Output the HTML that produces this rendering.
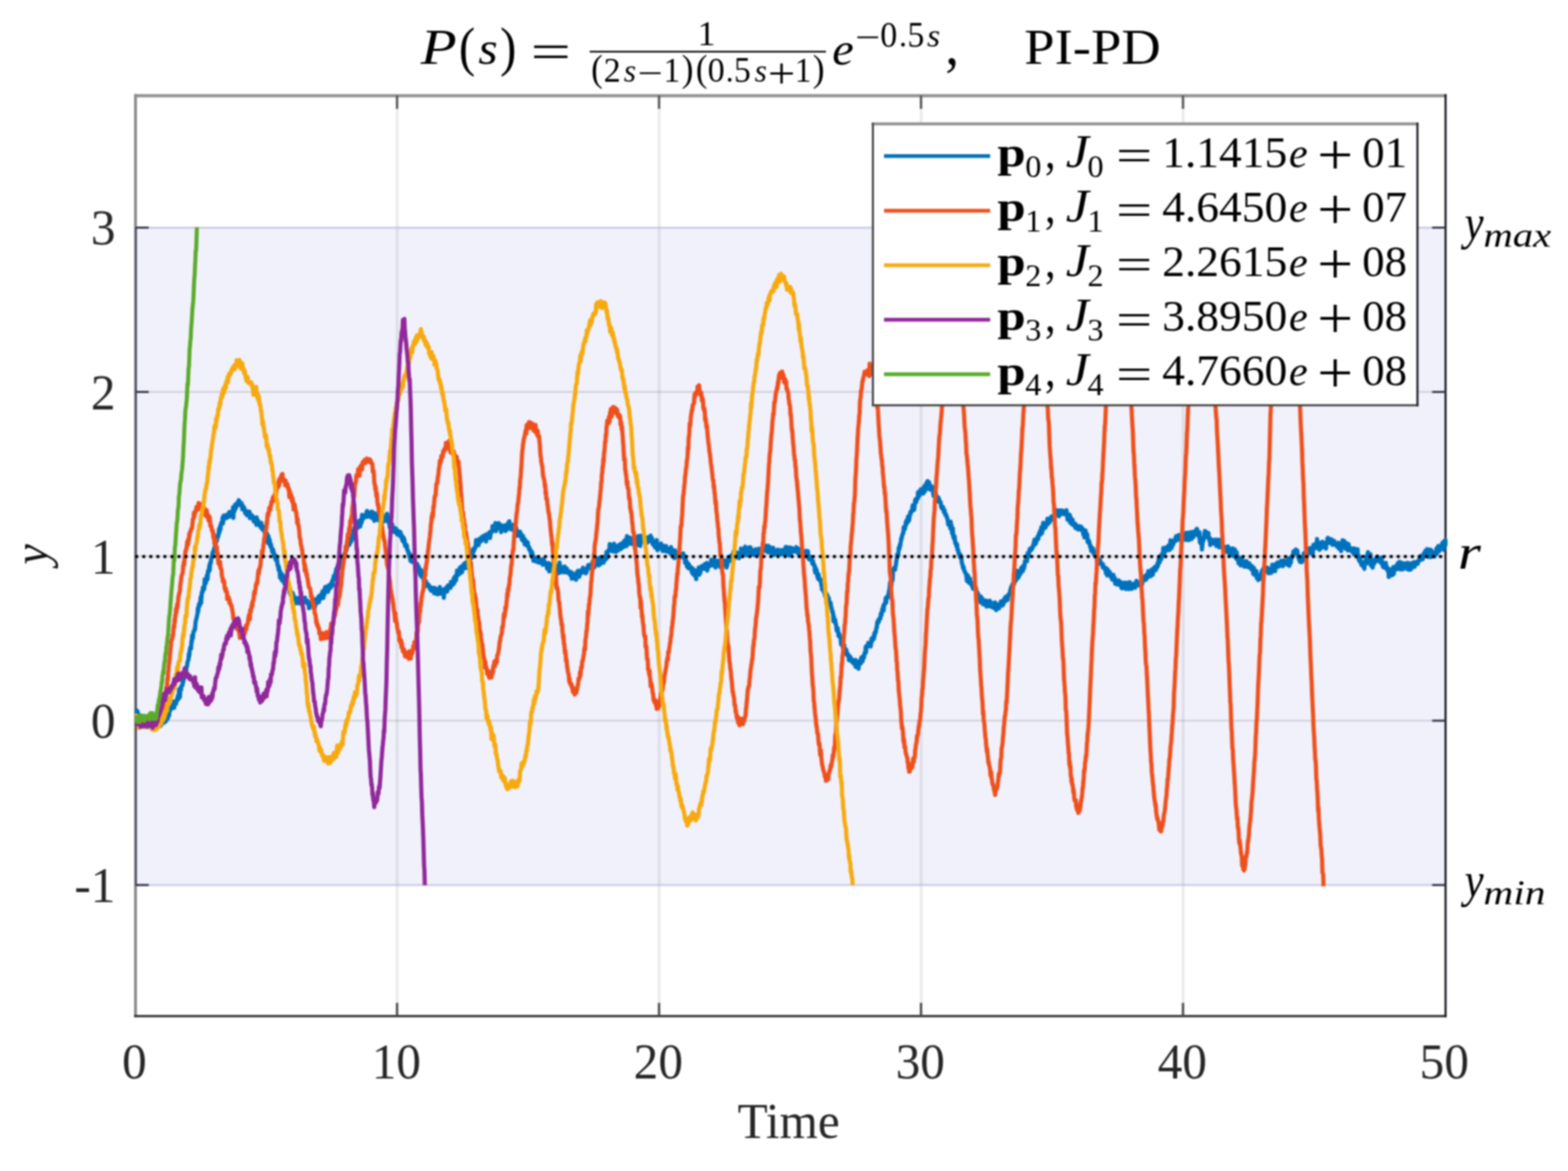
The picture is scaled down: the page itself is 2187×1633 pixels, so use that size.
<!DOCTYPE html>
<html lang="en"><head><meta charset="utf-8"><title>PI-PD step responses</title>
<style>html,body{margin:0;padding:0;background:#fff;}body{width:2187px;height:1633px;overflow:hidden;}svg{display:block;filter:blur(0.9px);}</style>
</head><body>
<svg xmlns="http://www.w3.org/2000/svg" width="2187" height="1633" viewBox="0 0 2187 1633">
<rect x="0" y="0" width="2187" height="1633" fill="#fff"/>
<rect x="189.0" y="317.4" width="1827.0" height="916.8" fill="#f1f1fc"/>
<g stroke="#262626" stroke-opacity="0.085" stroke-width="4.2" fill="none"><line x1="554.0" y1="133.3" x2="554.0" y2="1417.0"/><line x1="919.4" y1="133.3" x2="919.4" y2="1417.0"/><line x1="1284.8" y1="133.3" x2="1284.8" y2="1417.0"/><line x1="1650.2" y1="133.3" x2="1650.2" y2="1417.0"/></g>
<g stroke="#262626" stroke-opacity="0.14" stroke-width="2.6" fill="none"><line x1="189.0" y1="1005.0" x2="2016.0" y2="1005.0"/><line x1="189.0" y1="775.8" x2="2016.0" y2="775.8"/><line x1="189.0" y1="546.6" x2="2016.0" y2="546.6"/></g>
<g stroke="#b4b4d6" stroke-opacity="0.6" stroke-width="3"><line x1="189.0" y1="317.4" x2="2016.0" y2="317.4"/><line x1="189.0" y1="1234.2" x2="2016.0" y2="1234.2"/></g>
<clipPath id="ax"><rect x="188.0" y="133.3" width="1831.0" height="1283.7"/></clipPath>
<line x1="187.0" y1="133.5" x2="2017.4" y2="133.5" stroke="#939393" stroke-width="4.4"/><line x1="189.0" y1="131.3" x2="189.0" y2="1418.3" stroke="#8a8a8a" stroke-width="4.0"/><line x1="189.8" y1="317.4" x2="189.8" y2="1234.2" stroke="#4c4c60" stroke-width="2.4"/><line x1="187.0" y1="1417.0" x2="2017.4" y2="1417.0" stroke="#262626" stroke-width="2.8"/><line x1="2016.2" y1="131.3" x2="2016.2" y2="1418.4" stroke="#0e0e1c" stroke-width="2.8"/><line x1="553.8" y1="1417.0" x2="553.8" y2="1398.5" stroke="#4a4a4a" stroke-width="3.2"/><line x1="553.8" y1="133.3" x2="553.8" y2="151.8" stroke="#555" stroke-width="3.2"/><line x1="919.2" y1="1417.0" x2="919.2" y2="1398.5" stroke="#4a4a4a" stroke-width="3.2"/><line x1="919.2" y1="133.3" x2="919.2" y2="151.8" stroke="#555" stroke-width="3.2"/><line x1="1284.6" y1="1417.0" x2="1284.6" y2="1398.5" stroke="#4a4a4a" stroke-width="3.2"/><line x1="1284.6" y1="133.3" x2="1284.6" y2="151.8" stroke="#555" stroke-width="3.2"/><line x1="1650.0" y1="1417.0" x2="1650.0" y2="1398.5" stroke="#4a4a4a" stroke-width="3.2"/><line x1="1650.0" y1="133.3" x2="1650.0" y2="151.8" stroke="#555" stroke-width="3.2"/><line x1="189.0" y1="1234.2" x2="207.5" y2="1234.2" stroke="#33334a" stroke-width="2.8"/><line x1="2016.0" y1="1234.2" x2="1997.5" y2="1234.2" stroke="#33334a" stroke-width="2.8"/><line x1="189.0" y1="1005.0" x2="207.5" y2="1005.0" stroke="#33334a" stroke-width="2.8"/><line x1="2016.0" y1="1005.0" x2="1997.5" y2="1005.0" stroke="#33334a" stroke-width="2.8"/><line x1="189.0" y1="546.6" x2="207.5" y2="546.6" stroke="#33334a" stroke-width="2.8"/><line x1="2016.0" y1="546.6" x2="1997.5" y2="546.6" stroke="#33334a" stroke-width="2.8"/><line x1="189.0" y1="317.4" x2="207.5" y2="317.4" stroke="#33334a" stroke-width="2.8"/><line x1="2016.0" y1="317.4" x2="1997.5" y2="317.4" stroke="#33334a" stroke-width="2.8"/>
<g clip-path="url(#ax)"><path d="M189,1004l.5-2.2 .5-4.6 .5-6.9 .5,5.2 .5-1 .5-2.1 .5,4.1 .5,.6 .5,1.1 .5,.7 .5,2.8 .5-2.4 .5,2.6 .5-.2 .5,3.4 .5-1.1 .5-.6 .5-1.1 .5,1.8 .5,1 .5-.5 .5,4.7 .5-.6 .5-10.2 .5,2.5 .5,5 .5-.4 .5,2 .5,.2 .5,5.6 .5-8.8 .5,2.3 .5,7.1 .5-3.5 .5,.4 .5-2.9 .5-2.8 .5,5.5 .5,.2 .5-3.3 .5,2 .5,2.1 .5-2 .5,2.7 .5,1 .5,.1 .5-1.1 .5,3.3 .5,1.1 .5-1.3 .5-3 .5,4.4 .5-3.3 .5,3.9 .5-5.5 .5,5.4 .5-2.8 .5-3.7 .5,2.3 .5,.6 .5,.2 .5-3.9 .5-.9 .5,3.2 .5-2.4 .5,1.5 .5,.9 .5-7.2 .5,4.8 .5,2.3 .5-4.7 .5-1.9 .5,4 .5-1.7 .5,1.5 .5-3.8 .5-3.5 .5,3.5 .5-1.2 .5,3.1 .5-2 .5-5.4 .5,.8 .5,5.4 .5-1 .5-4.2 .5,1.3 .5,.6 .5-.8 .5,.1 .5-2.9 .5-2.3 .5-1.8 .5,2.3 .5-10.7 .5,4.4 .5-.9 .5-5.4 .5,3.7 .5-3.9 .5,3.3 .5-3.6 .5,1.6 .5,1 .5-2.8 .5-3.9 .5-2.2 .5,8.7 .5-5.6 .5-2.1 .5,1.8 .5-1.6 .5,2.1 .5-3.2 .5-1.1 .5-3.2 .5,2.1 .5-5.6 .5,3.4 .5,1 .5-10 .5-4 .5,7.1 .5,4 .5-11.3 .5-2.2 .5,3.7 .5-5.5 .5-.7 .5-1.1 .5,.7 .5-4.3 .5,.1 .5-3.2 .5-3.9 .5-.5 .5-3.9 .5,.6 .5-5.4 .5-2.1 .5,4.9 .5-6.5 .5-2.4 .5-.7 .5-4.9 .5-1.8 .5-.5 .5-2.8 .5-6.4 .5,3.1 .5-6.4 .5-3.8 .5-2.1 .5-1.1 .5,3 .5-10.4 .5,1.2 .5-9 .5,3.5 .5,0 .5-5.7 .5-3.6 .5,0 .5-1.2 .5-2.5 .5,1.1 .5-7.4 .5-4.7 .5-1.2 .5-2.4 .5-1.9 .5-2.9 .5-1.9 .5-7.5 .5,4.6 .5-6.3 .5-4 .5,2.8 .5-.3 .5-4.5 .5-3 .5-5.1 .5,8.7 .5-7.5 .5-7.6 .5-.8 .5,.7 .5-6.4 .5,3.1 .5-3.4 .5,3 .5-2.4 .5-11.9 .5,6.1 .5-6.3 .5,5.9 .5-4.3 .5-.6 .5-6.3 .5,6.4 .5-1.3 .5-10.5 .5,2.1 .5-4.8 .5-.2 .5-5.5 .5,6.7 .5-10 .5-.2 .5,.2 .5-5.3 .5-.9 .5-3 .5-.8 .5-4.8 .5,.1 .5-1.2 .5-2.1 .5-.7 .5-2.8 .5,1.2 .5-4.7 .5-1.1 .5-3.2 .5-1.2 .5-3.7 .5,3.3 .5-6.2 .5-.5 .5,1.5 .5-1.5 .5-3.8 .5-6.2 .5,5.1 .5-2.2 .5-6.6 .5,4.3 .5-6 .5-3 .5,1.7 .5-2.4 .5-.5 .5-6.4 .5,8.3 .5-7.8 .5-3.4 .5,5.4 .5-3.1 .5,1.5 .5-2.2 .5,.5 .5,.6 .5-3 .5,3.8 .5-3.4 .5-1.3 .5,2.4 .5,.9 .5-2.1 .5-1.9 .5,3.9 .5-6.8 .5,1.8 .5,2.7 .5-4.2 .5,3.6 .5-.6 .5,2.3 .5-5.6 .5,.1 .5,2 .5-8.6 .5,14.6 .5-11.5 .5-1.1 .5,3.5 .5-3.5 .5-5.9 .5,5.8 .5-.4 .5-4.5 .5-.4 .5,1.3 .5-4.6 .5,3.1 .5-1.2 .5-2.9 .5-2.3 .5,3.1 .5-1.8 .5,5.4 .5-2.1 .5,2.2 .5-1.3 .5,.9 .5-2.2 .5,4.8 .5,3.9 .5-5 .5,.1 .5,2 .5,0 .5,.2 .5,3.1 .5-.4 .5,5.5 .5-3.4 .5,1.5 .5,2.3 .5-3 .5,5.4 .5-5.3 .5,.1 .5,1.7 .5,1.2 .5-3.1 .5,4.3 .5-4 .5,9 .5-3.6 .5-1.1 .5-.3 .5,2 .5,.9 .5-1.8 .5,.8 .5,2.5 .5-.4 .5,4.6 .5,1 .5-2.7 .5,1.8 .5-4.5 .5,6 .5-1.4 .5,1.8 .5,3.6 .5-10.4 .5,7.5 .5-3.3 .5,5.1 .5-4.9 .5,2.8 .5,2.4 .5,1.6 .5-1.1 .5-1.9 .5,1.1 .5,4.5 .5-1.9 .5-4.2 .5,7.6 .5-.6 .5,1.9 .5-2.8 .5,3.9 .5-4.6 .5,5.3 .5-2.1 .5,4.1 .5,1.9 .5-3.9 .5,2.9 .5,1.4 .5,4.3 .5-.2 .5-4.2 .5,5.9 .5,2.1 .5,5.1 .5-9.4 .5,4.5 .5,6.5 .5-6.2 .5,1.7 .5,6 .5,2.7 .5-3.5 .5,4.6 .5,0 .5,5.2 .5-2.9 .5,4 .5-4 .5,3.4 .5,1.6 .5,4.8 .5-.2 .5-2.3 .5,5.4 .5,1.7 .5-1 .5,1.1 .5,1.9 .5-2.5 .5,7.2 .5,2 .5-1.2 .5,6.4 .5-4 .5,4.1 .5,2 .5,8.6 .5-8.5 .5,7.5 .5,2.3 .5-.5 .5,3.1 .5-5.3 .5-2.8 .5,9.3 .5-4.8 .5,3 .5-1.8 .5,6.9 .5,0 .5-3.9 .5,5.2 .5-1.6 .5-.1 .5,1.2 .5-.1 .5,3.1 .5-.1 .5-1 .5,4.7 .5-3.6 .5,3.5 .5,1.4 .5,3.9 .5-4.5 .5,7.3 .5-3.4 .5,0 .5-.4 .5,4.5 .5-.6 .5-2.4 .5,.8 .5,2.4 .5,.4 .5,5.6 .5,1.4 .5-.9 .5-1.1 .5-1.8 .5,1.6 .5,2.4 .5,3.7 .5-3.3 .5-3.2 .5,1 .5-1.3 .5-.8 .5,1.8 .5,1.1 .5,4.7 .5-4.9 .5,3.7 .5,1.2 .5-4.6 .5,4.3 .5-2.4 .5-3.1 .5,2 .5-.6 .5-.6 .5,.2 .5,1 .5,1 .5-3.6 .5,2.6 .5-4.1 .5,5.2 .5,1.3 .5-1 .5,.6 .5,1.2 .5-3.2 .5,1.5 .5,2.5 .5,1.7 .5-1.4 .5,6.4 .5-7.1 .5,3.3 .5,1 .5-3.7 .5-1.7 .5-.9 .5,3.8 .5,2.7 .5-2.4 .5-.3 .5-1.7 .5,2.4 .5-7.8 .5,6.3 .5-.9 .5-4.3 .5,9.5 .5-10.4 .5,.4 .5-.8 .5,6 .5-6.1 .5,3.9 .5-.8 .5-1.4 .5-4.9 .5,1.5 .5,5.9 .5-8.8 .5,.8 .5,1.3 .5,2.1 .5-2.1 .5,.7 .5-5.7 .5,5 .5-1.8 .5-6.7 .5,8.1 .5,1.4 .5-9.2 .5,1.6 .5,3.1 .5-8.7 .5-2.1 .5,1.3 .5,1.5 .5-.6 .5,2.8 .5-1.5 .5-4.7 .5,4.7 .5,3.2 .5-2.3 .5-1 .5-3.1 .5,2.2 .5-5.9 .5,4.3 .5-2.9 .5,2.8 .5-2.5 .5-5.1 .5,2.6 .5,1.9 .5-7.8 .5,.1 .5-2.1 .5-3.7 .5,5.1 .5-.8 .5-3.2 .5-3.3 .5-2.6 .5-.8 .5-4.2 .5,3.1 .5-.8 .5-1.4 .5-5.1 .5,.7 .5-1.6 .5,4.6 .5-5.4 .5-6.6 .5,5.6 .5,3.4 .5-4.2 .5-.2 .5-3.1 .5-6.4 .5-.4 .5,.8 .5,2.3 .5,.3 .5,.2 .5-3.9 .5,2.7 .5-4.5 .5-2.3 .5,3.2 .5-6.2 .5-6.3 .5,3.4 .5,1.9 .5-10.2 .5,6.3 .5-1.2 .5-4.4 .5-1.5 .5,1.5 .5-1.6 .5,3.8 .5-3.8 .5-6.7 .5,.8 .5,3.2 .5,2.2 .5-5.3 .5-1.4 .5,3.2 .5-6.4 .5-1.9 .5-4.2 .5,1.4 .5,6.5 .5-11.2 .5,2.9 .5-5 .5,3.3 .5,1.1 .5-4.1 .5,1.8 .5-.9 .5-1.6 .5,2.8 .5-3.4 .5-3.8 .5-1.7 .5-1.1 .5,3 .5-3 .5,7.9 .5-3.2 .5-6.4 .5-1 .5,5 .5-10.7 .5,3.4 .5,3.3 .5-5.8 .5,.7 .5-.2 .5,2.3 .5-1.9 .5,.4 .5,.1 .5-1.9 .5,2.8 .5-5.4 .5-2.1 .5-1 .5,.4 .5,3 .5,4.5 .5-2.4 .5-2 .5-1.2 .5,1.7 .5,.5 .5-.2 .5-2.2 .5,2.9 .5,4.4 .5-8.6 .5,5.6 .5-5 .5,6.8 .5-2.4 .5-3.4 .5,6.3 .5,5.1 .5-4.5 .5,3.1 .5-3.2 .5-5.7 .5,7.6 .5-2.4 .5-2.8 .5,6.4 .5-1.2 .5-2.2 .5,4 .5-4.8 .5,4.3 .5-4.3 .5,4.2 .5-4.5 .5,7.3 .5-3.4 .5,3.4 .5-6.2 .5,1 .5,3.8 .5-10 .5,4.8 .5,6 .5-1.5 .5,1.6 .5-3.5 .5,2.6 .5-3.5 .5-1.6 .5-.8 .5,3.5 .5,.3 .5,.1 .5-7.8 .5,4.7 .5,4.5 .5,2.8 .5-1.9 .5-.4 .5-3.4 .5,12.6 .5-8.1 .5,8.4 .5,.2 .5-3 .5-1.8 .5,2.6 .5-3 .5,4.6 .5-.1 .5,2.1 .5,1.7 .5,2.8 .5-5.4 .5,4.6 .5-4.6 .5,.2 .5,1.3 .5-.5 .5,6 .5,.4 .5,1.5 .5-3.1 .5,1.3 .5-1.8 .5-1.1 .5,5.1 .5,0 .5-3.2 .5,5.3 .5-5.9 .5,5 .5-.6 .5,1 .5-.9 .5,6.4 .5-.3 .5,2.5 .5-2.1 .5-3.2 .5,3.6 .5-1.2 .5,5.8 .5,3.3 .5-1.1 .5-1.3 .5,2.1 .5,3 .5-3.2 .5,5.9 .5,1.6 .5-.7 .5,1.8 .5,2.9 .5-1.4 .5,1.2 .5,5.6 .5-.5 .5,5 .5-6.5 .5-1.4 .5,8.4 .5,.8 .5-4 .5-1.3 .5,4.7 .5-4.1 .5,4.6 .5-4.6 .5,6.1 .5-4.6 .5,5.8 .5,5.6 .5-4.4 .5,3.5 .5-3.3 .5-.1 .5-1 .5,7.8 .5-2.4 .5,5.4 .5-7.1 .5,3.4 .5,1.7 .5,4.6 .5,2.1 .5-5.9 .5-.3 .5-.6 .5,9.7 .5-2.8 .5-.4 .5,2.8 .5-5.8 .5,3.5 .5,8.5 .5-.4 .5,.4 .5-2.3 .5,5.4 .5,4.2 .5-7.6 .5,4.1 .5-.7 .5,2.8 .5-.5 .5,.1 .5-1.6 .5,2.9 .5-1.1 .5,1.7 .5,.8 .5,2.4 .5-3 .5,1.2 .5,4.3 .5-3.2 .5,.3 .5,3.5 .5-1.3 .5-.2 .5,.7 .5-3.7 .5,5 .5,2.7 .5-1.9 .5-5.7 .5,5.3 .5-3.1 .5,2 .5,1.1 .5-3.6 .5,7.1 .5-3.9 .5,2.4 .5-.5 .5,2 .5-.5 .5-7.5 .5,4.2 .5-6.2 .5,4.6 .5,3.2 .5,.4 .5,.9 .5-4.8 .5,1.8 .5-.8 .5,3.1 .5,.7 .5-5.6 .5,11.4 .5-10.8 .5-1.3 .5,2.5 .5,.2 .5-.8 .5-3.6 .5,5.7 .5-4.2 .5,3.9 .5-.7 .5-7.8 .5,.6 .5-.4 .5,3.1 .5-1.1 .5,0 .5-3.6 .5,2.7 .5,2 .5-8.5 .5,2.4 .5,.3 .5-1.9 .5-1.1 .5,4.6 .5-2.3 .5-2.1 .5-5.4 .5,7.6 .5-6.1 .5-3.3 .5-.1 .5-1.1 .5,6.6 .5-6 .5-1.1 .5-6.8 .5,7.4 .5-5.7 .5-.8 .5,4.2 .5-4.7 .5,4.1 .5,.2 .5-8.8 .5,4.1 .5-4.7 .5,3.7 .5,2.1 .5-6.9 .5,8.3 .5-6.5 .5-3 .5,2.5 .5,2 .5-6.5 .5,3.4 .5-4.3 .5,6.8 .5-3.4 .5-2 .5,3.6 .5-6.9 .5,2.1 .5,5.8 .5-6 .5,3.6 .5-3.8 .5-3.1 .5,.7 .5,.3 .5-2.1 .5-2 .5-.8 .5-3.1 .5,3.3 .5-.6 .5-.4 .5-8.6 .5,5.8 .5-3.9 .5-5.5 .5,2.7 .5,.5 .5-2.3 .5-.8 .5-.7 .5-1.4 .5-3.7 .5-6.7 .5,2.9 .5,2.4 .5-2.8 .5,2.7 .5-.1 .5-2.6 .5,4.7 .5-8.4 .5,5 .5-4.3 .5-1.2 .5,3.5 .5-3.7 .5,3.8 .5-5.9 .5,3.1 .5-2.8 .5,1.5 .5-.7 .5-2.4 .5,4.8 .5-5.6 .5,.5 .5,4.9 .5,0 .5-1.1 .5-1.3 .5,5.2 .5-10.1 .5,1 .5-1.1 .5,5 .5-2.1 .5,1.9 .5-.9 .5-3.8 .5-2.2 .5-.9 .5,8.4 .5-4 .5-1.6 .5-3.2 .5-.1 .5-1 .5-.5 .5-6.4 .5,6 .5-1.4 .5,1.4 .5-.7 .5,1.3 .5-2.9 .5,1.9 .5-9.8 .5,3.7 .5,7.6 .5-8.5 .5,2.4 .5,2.6 .5-4.6 .5,4.4 .5-6 .5-1.4 .5,1.6 .5-.9 .5,4.6 .5-.8 .5,1.8 .5-3.8 .5,10 .5-7.4 .5,.1 .5,1.4 .5-1.9 .5-1.1 .5,2 .5,2.3 .5-.7 .5,.8 .5-4.2 .5-.6 .5,7.8 .5-6.3 .5,2 .5,.7 .5,1.9 .5-7.7 .5,2.4 .5,.2 .5,.3 .5-5.9 .5,6.5 .5-7.8 .5,9 .5,.7 .5,.3 .5-4.9 .5,6.2 .5-4.8 .5-.8 .5,.9 .5,.7 .5,3.1 .5,2.2 .5-7.9 .5,4.7 .5,4.5 .5-1.6 .5,1.3 .5-5.2 .5,7.3 .5-6.6 .5,5.3 .5,3.8 .5,1.9 .5-3.4 .5,1.5 .5-3.7 .5,.8 .5,5.1 .5-2.8 .5,.1 .5-3.1 .5,4.9 .5,2 .5-3.5 .5,1.4 .5,6.5 .5-3.2 .5-.6 .5-1.7 .5,2.2 .5,1.8 .5,5.3 .5-4.8 .5,7.6 .5-6.9 .5,2.5 .5,4.1 .5-2.2 .5-.8 .5,2.8 .5,2.4 .5-5.2 .5,4.9 .5,1.2 .5,0 .5,4.1 .5-2.7 .5,1.5 .5,2.2 .5,2.9 .5-1.6 .5,6 .5-5.8 .5,7.2 .5-5 .5,3 .5,2.4 .5,5.6 .5-2.4 .5-2.9 .5,5.5 .5-3.7 .5-1.1 .5,3.9 .5-.7 .5,2.7 .5-3.9 .5,2.8 .5,1 .5-.8 .5-.7 .5-1.7 .5,4.7 .5-2 .5,1.2 .5-2.2 .5,1.1 .5-2.8 .5,3.3 .5,2.1 .5-1.7 .5,2.3 .5-1.4 .5,3.1 .5-4.1 .5-3.9 .5,6 .5-1.4 .5-2 .5,4.8 .5-.7 .5,.9 .5-1.8 .5,2 .5,.6 .5,4.8 .5-6.4 .5,2.4 .5,1.5 .5-5.3 .5,.8 .5,11 .5-10.6 .5,6.9 .5-3.7 .5,.5 .5-3.2 .5,3.1 .5,4.8 .5-6.1 .5,5.6 .5-.8 .5,4.8 .5-7 .5,4.8 .5-1 .5-3.3 .5-3.9 .5,8.9 .5-8 .5,2.5 .5,3.8 .5,.6 .5-5.5 .5,2.3 .5-.6 .5,4 .5,3.7 .5-12.1 .5,7.7 .5-10.6 .5,8 .5-3.1 .5,8.7 .5-5.1 .5-2.5 .5,.8 .5-.1 .5,2.3 .5-.7 .5,2.5 .5,2.7 .5-2.1 .5-5.1 .5-.8 .5,2.8 .5,5.4 .5-3.6 .5-.6 .5,2.6 .5-4 .5,1.1 .5,4.9 .5-1.9 .5-.2 .5,2.6 .5-2.2 .5,.2 .5,1 .5,3.5 .5-1.1 .5-3.1 .5,2.9 .5,3 .5,3.8 .5-8.2 .5,4.4 .5-1.6 .5,3.1 .5-1.1 .5,2.9 .5-2.8 .5-3 .5-.1 .5,2.5 .5-.2 .5,5.5 .5-2.2 .5-8.2 .5,4 .5-4.9 .5-1.1 .5,6.4 .5-.7 .5-4.8 .5,7.3 .5-7.6 .5-.8 .5,4.8 .5-1.5 .5-1.3 .5-.1 .5,.6 .5-1.3 .5-.4 .5-5.1 .5,1.2 .5,5.1 .5-4 .5,3.1 .5,1.5 .5-4.8 .5,1.4 .5,4.6 .5-4.3 .5,2.8 .5-1.3 .5-2.6 .5-2.8 .5-2.5 .5-1.1 .5,4.1 .5-.4 .5-2.1 .5,2.6 .5-4.4 .5,4.6 .5-3.3 .5-.5 .5-.1 .5-.6 .5,7 .5-11.7 .5,4.8 .5,2.7 .5-1.7 .5-3.1 .5,5.5 .5-8.1 .5-.9 .5,5 .5-5.9 .5-2.8 .5,8.9 .5-.6 .5-.3 .5-3.7 .5,1.7 .5-3.4 .5,7.3 .5-2.8 .5-.4 .5-7.7 .5,7.5 .5,1.7 .5-1 .5-1.5 .5-2.4 .5-1.3 .5,2.4 .5-.9 .5-.7 .5-1.9 .5,5.2 .5-8.4 .5,2.6 .5-2.2 .5,3.7 .5,.2 .5-1.5 .5-2.3 .5-7.1 .5,8.7 .5-5.4 .5-2.8 .5-.6 .5-1.9 .5,1.3 .5-1.1 .5-2.6 .5-6.7 .5,6.7 .5,1.1 .5,.1 .5-1.9 .5,1.7 .5,1.6 .5-4.2 .5,5.4 .5-9.6 .5,2 .5,1 .5-4.3 .5,4 .5,6.3 .5,0 .5-3.2 .5,4.5 .5-4.1 .5-2.1 .5,2.1 .5-1.1 .5,2.5 .5-6.3 .5,6.9 .5-4.3 .5,3.4 .5-7.2 .5,2.7 .5,.8 .5,1.6 .5-6.6 .5,7.3 .5-4 .5-3.6 .5,4.1 .5-3.8 .5,2.3 .5,2.7 .5-4.9 .5-4.1 .5,0 .5,2.6 .5-.9 .5-3.1 .5,.4 .5,3.8 .5,4.7 .5-14 .5,9.4 .5-2.6 .5,2.8 .5,.2 .5-2.3 .5-2.9 .5-1.1 .5-1.3 .5,8.6 .5-4 .5-.9 .5,.7 .5-3 .5,4.7 .5,2.8 .5-.5 .5-7.7 .5,8.2 .5-6.1 .5-3.3 .5,1.7 .5,.6 .5,2.5 .5-3.1 .5-1.5 .5,3.3 .5,6 .5-7.6 .5,3.1 .5-1.2 .5,7.1 .5-12.9 .5,8.3 .5-6.7 .5,1.9 .5,1.4 .5,9.2 .5-11 .5-3.2 .5,8.9 .5-5.9 .5,1.6 .5,.6 .5,.4 .5-.8 .5,1.2 .5,.4 .5,1.3 .5-3.6 .5-.9 .5-.9 .5,4.7 .5-1.8 .5,1.6 .5,0 .5,3.2 .5-4.1 .5,1.5 .5-5.5 .5,.4 .5,2.2 .5-2.4 .5,5.5 .5-5.4 .5,4.2 .5-6.7 .5,4.2 .5,2.6 .5,.7 .5-3.8 .5,5.8 .5,2.9 .5-.4 .5-3.1 .5,.6 .5-1.2 .5,5.5 .5,2.7 .5-5.2 .5-3 .5,5.6 .5,1.7 .5-9.4 .5,8.3 .5,5.9 .5-3.6 .5-.5 .5-.2 .5,2 .5-5.4 .5,.5 .5,3.6 .5-2.8 .5,2.8 .5-5.9 .5,7.7 .5,.4 .5-2.1 .5,.5 .5,4.3 .5-7.4 .5,.7 .5-.4 .5,2.1 .5-1.4 .5,3.1 .5-1.7 .5-2.1 .5,0 .5,7.9 .5-3.4 .5-.2 .5,.9 .5-.1 .5,2.5 .5-.3 .5-3.1 .5-.4 .5-.5 .5-.3 .5,7.6 .5-6.3 .5-2.9 .5,3.5 .5,.4 .5,3.3 .5-3.2 .5,4.2 .5-.2 .5,2.6 .5,2.8 .5,2.1 .5-4.1 .5-6.8 .5,2.3 .5,1.9 .5,5.3 .5-3.7 .5,1.6 .5-3.7 .5,2.3 .5,.5 .5-3.1 .5,3.6 .5,1 .5-3.3 .5,3.5 .5,2 .5-4.2 .5,.1 .5-.7 .5-.6 .5,2.5 .5-1.3 .5,.6 .5-.9 .5-1.5 .5,2.3 .5,4.3 .5-3.3 .5,2.4 .5,7.4 .5-.5 .5-4 .5,4.6 .5-2.5 .5,7.3 .5-5.3 .5,2.6 .5,4.4 .5-5.6 .5,6.7 .5-5.3 .5,3.6 .5-.8 .5,1.3 .5,1.4 .5,0 .5-2 .5,5.9 .5,.2 .5,2.3 .5,.8 .5-7.1 .5,7.9 .5,.6 .5-4.7 .5,4.8 .5,1.6 .5-5.3 .5-2.1 .5,3.1 .5,9 .5-7.1 .5-4 .5,2.6 .5-2.2 .5,1.4 .5,1 .5-7.9 .5,7.6 .5,2.4 .5-5.2 .5-1.2 .5,3.5 .5-7.3 .5-.7 .5-1.1 .5,2.8 .5,.9 .5-1.9 .5,1.3 .5,.3 .5-1.3 .5-3.9 .5,1.4 .5,4 .5-6.6 .5,2.1 .5-.6 .5,.5 .5-2.6 .5-.9 .5,10.8 .5-4.6 .5-4.7 .5,1.7 .5,2 .5-3 .5,2.6 .5-3.6 .5,.6 .5,.7 .5-1.2 .5-5.7 .5,6.8 .5,.6 .5,.4 .5-4.3 .5,3.6 .5-.5 .5-5.7 .5-1.4 .5,7.3 .5-4.1 .5,5.3 .5,3 .5-7.7 .5-.4 .5,1.7 .5,1.9 .5-5.2 .5,6.6 .5-.7 .5-.9 .5-3.4 .5,4.1 .5-.2 .5-5.8 .5,9.3 .5-6.7 .5,1.8 .5-2.5 .5,2.6 .5,2.1 .5-5.5 .5-2.3 .5,3.3 .5-2.4 .5,1.6 .5,1.7 .5,.2 .5,3.8 .5-6.4 .5,3.8 .5-2.5 .5,5.1 .5,2.9 .5-6.6 .5,3.4 .5-6.7 .5-3.6 .5,.3 .5-1.5 .5,1 .5,1.3 .5,3.2 .5-1.9 .5-1.4 .5-3.1 .5-1.4 .5,1.6 .5-.1 .5,0 .5,0 .5-1.5 .5-5.3 .5,2.2 .5,.6 .5,7 .5-6.1 .5,3 .5,2.1 .5-3.3 .5-2.1 .5,.2 .5-2.2 .5,3.6 .5,2.2 .5-1.6 .5,.4 .5-.3 .5,3.5 .5-7.5 .5,2 .5,1.4 .5,1.3 .5-10.6 .5,5.1 .5,.6 .5-2.7 .5,5 .5-2.1 .5-2.1 .5-3.8 .5,.5 .5,.7 .5,3.7 .5-4.9 .5-2.7 .5,1.5 .5,2.3 .5,6.2 .5,2.2 .5-8.3 .5,4 .5,1.3 .5-.3 .5-3.8 .5-3.2 .5,2.5 .5-3.7 .5,6 .5,1.7 .5-7.3 .5,5.4 .5,1.1 .5,2.9 .5,.5 .5-1.4 .5-4.1 .5,1 .5,4.5 .5-5 .5,1.6 .5,4.5 .5-4.1 .5-4.3 .5,3 .5,2.5 .5-2.4 .5,3.6 .5,.2 .5-5.5 .5,.2 .5,1 .5-3.3 .5,4.3 .5-1.7 .5,2.5 .5-4 .5-1 .5,7.5 .5-7.7 .5,.7 .5-.6 .5,1.1 .5-1.8 .5,2.3 .5-2 .5,.7 .5,2 .5,.8 .5-.7 .5-3.5 .5,3 .5-1.6 .5-.1 .5-4.6 .5,6.6 .5-2.4 .5,5.1 .5-3.1 .5-5 .5-.8 .5,7 .5-5.7 .5,4.3 .5-2.7 .5,6.7 .5-5.7 .5,4.1 .5-.4 .5-4.8 .5,.5 .5,5.3 .5-3.9 .5-2.2 .5,6.1 .5,4.1 .5-7 .5,4.3 .5-4 .5,4.5 .5-4.2 .5,4.7 .5-1.9 .5-1.8 .5,1.4 .5-1.9 .5-1.5 .5,.4 .5,2.9 .5-2.7 .5,4.2 .5,.2 .5-.2 .5-2.8 .5,1.5 .5-.4 .5,3.6 .5-6.1 .5,1 .5,.3 .5,0 .5-1.8 .5,.1 .5,4.4 .5-4.8 .5,4.3 .5,3 .5-2.3 .5-8.7 .5,7.2 .5-.9 .5,.2 .5-6.1 .5,6.7 .5-5.2 .5,6.7 .5-.6 .5,4.1 .5-8.2 .5-3.2 .5,7.2 .5-.5 .5-3.5 .5,4.9 .5-1.9 .5-5.5 .5,2.6 .5-.3 .5,1 .5,.8 .5-2.5 .5,1.4 .5,2.3 .5-1.8 .5-.5 .5,0 .5,.7 .5-5 .5,6 .5-3.2 .5,3.3 .5-4.3 .5,6.9 .5-1.7 .5-4.3 .5,4.6 .5-2.6 .5,7.3 .5-3.5 .5-3.5 .5,3 .5-.6 .5,3.6 .5-2.3 .5,.5 .5-4.4 .5,5.4 .5,3.8 .5-4 .5-1.8 .5,.6 .5-3 .5,3.3 .5-3.5 .5,3.4 .5-1.1 .5-1.1 .5,4.1 .5-5.6 .5,4.3 .5-3.4 .5,9.1 .5,1 .5-2.5 .5,3.7 .5-2.7 .5,.8 .5-1.6 .5-.1 .5,4.1 .5-.6 .5,1.5 .5,4.5 .5-1.2 .5-2.8 .5,4.9 .5-.5 .5,2.4 .5-1.1 .5,7.6 .5,3.1 .5-7.3 .5,6 .5,1.1 .5-3.5 .5,4.5 .5,4.8 .5-.3 .5,3.3 .5-6.5 .5,2.4 .5,4.2 .5,1.4 .5,.5 .5,.2 .5,1.3 .5,.8 .5,4.4 .5-7.6 .5,13.6 .5-4.6 .5-1.2 .5,6.9 .5-4.2 .5,6.2 .5-1 .5,3.9 .5,1.6 .5,2.4 .5-4.1 .5,1.5 .5,1.7 .5-3 .5,6.5 .5-.4 .5-3.1 .5,8.1 .5,1.4 .5-6.4 .5,6.4 .5,3.1 .5,.2 .5-3.7 .5,.3 .5,5.1 .5,.6 .5,3.1 .5,1.4 .5,3.6 .5-1.3 .5,2.9 .5,10.6 .5-6.9 .5,4.2 .5,.5 .5,1.5 .5-1.5 .5,5.8 .5,.1 .5,4.2 .5,5.2 .5-3.5 .5,3.4 .5-3.3 .5,4.9 .5,5.7 .5-2.8 .5-.1 .5,4 .5,.3 .5,1.3 .5,1 .5,7.9 .5-6.7 .5,2.6 .5,.8 .5,6.3 .5-3.1 .5,5.6 .5-2.1 .5,.6 .5-2.9 .5,8.5 .5-.8 .5,.6 .5-.5 .5,.2 .5-1.4 .5,7.1 .5-.9 .5-.8 .5,.2 .5,3 .5,.3 .5,5.7 .5-1.6 .5-3.1 .5-.7 .5,3.1 .5-1.3 .5,3.3 .5,1.4 .5,1.1 .5-.1 .5-1.3 .5,2.7 .5-3.7 .5,2.7 .5,2.8 .5-1.1 .5-4.1 .5,.6 .5-1 .5,9.7 .5-9.3 .5,4 .5,5.5 .5-2.2 .5,.5 .5-5.3 .5,3.2 .5,6.2 .5-9 .5,.9 .5-2.4 .5,.4 .5,.6 .5,2.4 .5-6.9 .5-2 .5,3.6 .5-.1 .5,2.5 .5-2.9 .5-4.9 .5,2.1 .5,.3 .5-3.7 .5-3.2 .5,1.4 .5-4.2 .5-5.6 .5,7.6 .5-8.5 .5,1.6 .5-.9 .5-.9 .5-.6 .5-3.9 .5,4.9 .5-2 .5-.5 .5,2.3 .5-.5 .5,.1 .5,.9 .5-4.6 .5-6.2 .5,4.2 .5-1.4 .5-.7 .5-2.9 .5-1.9 .5,3.4 .5-.9 .5-7.3 .5,3.1 .5-3.5 .5-2.3 .5,1.3 .5-3.7 .5-3.1 .5,0 .5-7.4 .5,2.3 .5-1.1 .5-4.1 .5,2.9 .5-1.3 .5-3.9 .5-.3 .5,.8 .5-.4 .5-6.6 .5,1.6 .5,.4 .5-4.4 .5-3.6 .5-1.5 .5-.3 .5-3.5 .5,7.1 .5-8.7 .5,1.2 .5-2 .5-.2 .5-4.3 .5-4 .5,6.8 .5-6.3 .5-.9 .5-1.3 .5,1.4 .5-2.9 .5-.5 .5-2.7 .5-3.6 .5-1.6 .5-4.6 .5-5.3 .5,2.8 .5-4.4 .5,8.2 .5-4.9 .5-3.2 .5-6.9 .5,5.2 .5-12.6 .5-.7 .5-.9 .5-2.5 .5,1.1 .5-1.9 .5,2.9 .5-4.6 .5-1.4 .5-4.2 .5-3.6 .5-3.5 .5-4.3 .5-.2 .5-.7 .5,1.2 .5-8.8 .5-1.1 .5,2.4 .5-5.6 .5,1.8 .5-4.2 .5-3.1 .5-3.8 .5,1.3 .5-3.9 .5-1.8 .5-2.2 .5,.3 .5-2.1 .5-7.1 .5,2.6 .5-.1 .5,.2 .5-2.2 .5-3 .5-5.1 .5-.3 .5,3.5 .5-5.8 .5,3.7 .5-.5 .5-7.7 .5,3.1 .5-2.6 .5,4.9 .5-4.3 .5-4.9 .5,1.6 .5-4.8 .5,1.1 .5,0 .5-1.2 .5-.6 .5-4.5 .5-3.7 .5,3 .5-2.6 .5-.6 .5,6.7 .5-4 .5-5.1 .5-4.8 .5-1 .5,3.4 .5,.6 .5-5 .5,0 .5-.8 .5,1.2 .5-9.2 .5,4.8 .5-.1 .5,.9 .5-2.2 .5-4.8 .5,.8 .5-3.2 .5,4.3 .5-.5 .5,.4 .5-4.6 .5-.9 .5,7 .5-4.1 .5,4 .5-4.1 .5-5.7 .5,6 .5,.8 .5-5.2 .5-4.5 .5,6.9 .5-2.7 .5,.8 .5-8.7 .5,8.5 .5-9.3 .5,5.1 .5,4.7 .5-7.8 .5-.2 .5,3.9 .5,6 .5,.1 .5-5.9 .5,4.9 .5-.7 .5-.3 .5,.9 .5-2.2 .5,5 .5,1.6 .5,5.5 .5-4.1 .5-8.4 .5,4.4 .5,5.3 .5,.2 .5-4.4 .5,5.7 .5,.3 .5,1.7 .5,.7 .5,3.8 .5,2.4 .5-1.3 .5-4 .5,1.6 .5,1.5 .5,2.7 .5,0 .5,1.2 .5-.6 .5,6.3 .5,.8 .5,1.3 .5-1.8 .5,2.6 .5-2.8 .5,.8 .5,2.4 .5,4.2 .5-.9 .5-1.7 .5,4.5 .5,2.1 .5,.4 .5-1.2 .5,3.2 .5-.2 .5,1.5 .5,1.8 .5,3.6 .5,4.2 .5,.5 .5-1.4 .5-1.6 .5,1.5 .5,1.4 .5,5.2 .5-9.7 .5,9.7 .5-5 .5,6.9 .5,5 .5-4.9 .5-2.5 .5,11.4 .5,2 .5-1.4 .5,3.5 .5-4.2 .5,7 .5,3 .5-1.4 .5,.7 .5,4.4 .5,1.3 .5-3.6 .5,7.6 .5,0 .5,.1 .5,4.9 .5,.7 .5,1.2 .5-1.8 .5,5.4 .5-3.7 .5,4.5 .5-2.6 .5,1.8 .5,7.9 .5,.4 .5,2.3 .5,3.2 .5,1.1 .5-1.8 .5,4.3 .5,1.2 .5,.1 .5,2.5 .5,.5 .5,.3 .5,1.8 .5,2.6 .5,6 .5-7.2 .5,4.6 .5-4.8 .5,9.3 .5-4.6 .5,2 .5,4 .5-.1 .5-6.2 .5,6.5 .5-1.3 .5,3.2 .5-.5 .5,2.5 .5-.4 .5-.4 .5,4.6 .5-6.8 .5,3.9 .5-.6 .5,3.1 .5,.1 .5,1.6 .5-.2 .5,.9 .5-2.5 .5,5.3 .5,1.8 .5-1.6 .5,.7 .5,1 .5,7.4 .5-3.2 .5,1.4 .5-1 .5,.3 .5-.2 .5,7.6 .5-8.3 .5,6.4 .5-.3 .5,0 .5-3.2 .5,1.4 .5,6.6 .5-4.4 .5,4.6 .5-.4 .5-.1 .5,.6 .5-5.4 .5,2.2 .5,3.3 .5-5.3 .5,8.3 .5-6.1 .5,1.4 .5-2.6 .5,4 .5-3 .5,1.5 .5-2.4 .5,6.7 .5-7.8 .5,6 .5-.4 .5,.8 .5-3.8 .5,6.1 .5,.2 .5-1.8 .5,.8 .5-.8 .5,2.7 .5-3.7 .5,4.3 .5-.1 .5-4.8 .5-3.1 .5,7.1 .5-.1 .5,3.9 .5-3.4 .5-1.7 .5-2.6 .5,3.3 .5-1.6 .5-1.8 .5,2.4 .5,2.9 .5-3.2 .5-3.6 .5,3.4 .5-4.5 .5-1.9 .5,5.3 .5-3.4 .5,4.1 .5-2.7 .5-3.7 .5,2.4 .5,2.5 .5-4.6 .5-3 .5,.5 .5-1 .5-1.7 .5-.9 .5,4.1 .5,1.3 .5-4.9 .5,2.5 .5-.4 .5,1.4 .5-6.1 .5-1.3 .5,1.3 .5-1.9 .5-.5 .5,1.6 .5-6 .5,.5 .5-4.6 .5,1 .5-2.7 .5-1.6 .5,.3 .5-1.9 .5,1.2 .5,.1 .5-7.5 .5,6.1 .5-10 .5,6 .5,.5 .5-4.7 .5,.4 .5-2.4 .5,3.9 .5-12.2 .5,5.4 .5-3.5 .5,5.2 .5,2.3 .5-1.1 .5-2.3 .5-2 .5-3.7 .5,4.8 .5-2.4 .5-4.9 .5-2 .5,1 .5,4 .5-.3 .5,.2 .5-7.5 .5,.3 .5,3.9 .5-4.2 .5,.5 .5-6.9 .5,1.5 .5-.3 .5-2.3 .5-1.6 .5-4.8 .5,7.6 .5-5.6 .5-6 .5,5.7 .5-4.3 .5,.5 .5-3.8 .5-2.9 .5-1 .5,2.1 .5,.3 .5-1.7 .5-.4 .5,.7 .5-3.4 .5,1.3 .5-.5 .5-3 .5-1.8 .5-1.8 .5-2.9 .5-1.8 .5,7.2 .5-4.6 .5-2.5 .5,5 .5-2.7 .5-3.6 .5,1.6 .5-4.4 .5,.5 .5,3 .5-3.2 .5-4.8 .5,1.7 .5,.4 .5-4.6 .5-1.7 .5,5.6 .5-6.8 .5-3.7 .5,3.4 .5,5.3 .5-5.3 .5,.2 .5-9.4 .5,3.9 .5,4.3 .5-5.1 .5,4.2 .5-3 .5-.8 .5,3 .5-6.7 .5-.4 .5,1 .5-.2 .5-5.9 .5,7.7 .5-3.3 .5-1.6 .5,1.7 .5-3.4 .5,4 .5-3.6 .5,1.3 .5-4.9 .5,1.2 .5,1.4 .5-4.1 .5,.3 .5,1.2 .5,2.8 .5-1.5 .5-.1 .5-2.2 .5,1.2 .5,1.3 .5-4.3 .5,.3 .5,0 .5-7.6 .5,4.9 .5,1.2 .5,.7 .5-3.3 .5,3.5 .5-4.6 .5,1.2 .5,5.2 .5-8.4 .5,3.5 .5-.2 .5,.2 .5-1.2 .5,3.3 .5-4.7 .5-.7 .5,5.1 .5-4.7 .5,4.5 .5-1 .5-1.9 .5,1.1 .5,.7 .5,1.6 .5-2.9 .5,1.2 .5-3.3 .5,3.4 .5-4.2 .5,5.8 .5-.5 .5,8 .5-1.4 .5-3.1 .5,4.1 .5-.9 .5-3 .5-2.6 .5,10.8 .5-1.2 .5-5.8 .5,7.8 .5,1.3 .5-4 .5,4.5 .5-6.6 .5,4.6 .5,1.1 .5,2.4 .5-.7 .5-.2 .5,1.3 .5-3.1 .5,6.3 .5-4.7 .5,3.5 .5-1.9 .5-.4 .5,2.7 .5,0 .5,2.9 .5-.3 .5-4.2 .5,3.4 .5-.7 .5-2.1 .5-.4 .5,4.2 .5-1.8 .5-1.9 .5,4 .5,1.4 .5,.1 .5-3.2 .5,2.3 .5,6 .5-5.5 .5,1.9 .5,7.9 .5-4.8 .5-1.7 .5-3.4 .5,7.1 .5-3.9 .5,4.8 .5-1.2 .5-1.1 .5,10.5 .5-3.6 .5,4.1 .5,.8 .5-2.8 .5,3.6 .5,.1 .5,4.9 .5-.3 .5-1.1 .5,6.7 .5-2.1 .5,1 .5-2.4 .5,4.4 .5-4.2 .5,6.4 .5-2.8 .5,4.1 .5-.3 .5,2.4 .5,1.3 .5-.3 .5,.8 .5-3.2 .5-.4 .5,9.6 .5-1.2 .5-5.1 .5,10.2 .5-6.7 .5,4.1 .5,.3 .5-.3 .5,2 .5-4.9 .5,4.3 .5,0 .5,1.5 .5-.4 .5-.5 .5,.3 .5,5.2 .5-4.3 .5,4 .5,.6 .5-.6 .5,2.1 .5,1 .5-2.4 .5,3.1 .5,5 .5-7.7 .5,2.8 .5-.6 .5,8.3 .5-8.8 .5,4.6 .5,3.2 .5-4.5 .5,2.7 .5-1 .5-1.2 .5,4.1 .5,2.2 .5-2 .5,2.2 .5,2 .5,2 .5-6.2 .5,5.7 .5-2.9 .5-3 .5,3.6 .5,4.5 .5-.4 .5-3.4 .5,8.1 .5-2.9 .5-.9 .5-.9 .5,3.1 .5-1.8 .5,4.6 .5-1.9 .5,1.2 .5-2.3 .5-2.9 .5,5.9 .5-3.9 .5,2.9 .5,.6 .5-1.9 .5,5 .5-6.2 .5,8.5 .5-5.6 .5,4.6 .5,1.1 .5-5.8 .5,.5 .5,4.8 .5-2 .5-.2 .5-5.3 .5,.5 .5,6.1 .5,2.5 .5-6 .5-.4 .5,3 .5,.7 .5,.3 .5-2.8 .5-4.2 .5,9.5 .5-5.5 .5,4.9 .5-9 .5,6.5 .5-2.4 .5-1.6 .5,5.7 .5,.9 .5-5.2 .5,3.4 .5-4.8 .5,1.2 .5,1 .5-.4 .5,2.7 .5-5.3 .5,6 .5-.1 .5-3.5 .5-2.8 .5-3.5 .5,6.3 .5-1.9 .5,2.1 .5-3.4 .5,2.7 .5-.5 .5-.1 .5,.5 .5-.4 .5,1.5 .5-5.3 .5,3.7 .5-2 .5-2.1 .5-2.1 .5,6.3 .5-3.9 .5-2.6 .5,1.1 .5-.7 .5-2 .5-2.8 .5,3.7 .5-1.3 .5-.8 .5,3 .5-6.8 .5,.5 .5,2.5 .5,1.4 .5-1.1 .5-.2 .5-8.6 .5,6.9 .5-.7 .5,.2 .5-4.3 .5,2.8 .5,.9 .5,1.2 .5-4.2 .5-4.9 .5,3.4 .5,1.2 .5-.8 .5,3.4 .5-6.4 .5-2.7 .5,.5 .5,3.1 .5-4.6 .5-1.2 .5-.1 .5,5 .5-3.3 .5-2.3 .5,2.5 .5-1.2 .5-5.4 .5,4.2 .5-2.4 .5-7.3 .5,1.5 .5,3.1 .5-.3 .5-3.1 .5-2.9 .5,2.4 .5-6.8 .5,5.3 .5-3.4 .5-1.1 .5-3.2 .5,2.6 .5-10 .5,2.8 .5,3 .5-4.3 .5,5.4 .5-3.4 .5-3.8 .5,4.8 .5-3.7 .5,1.4 .5-3.6 .5-.3 .5,3.3 .5-1.9 .5-2.7 .5-.6 .5,3.9 .5,2.8 .5-7.5 .5,3.9 .5-10.3 .5,3.8 .5,5.3 .5,2.1 .5-4.7 .5,.7 .5-1.4 .5,1.3 .5-6.5 .5,3.9 .5-3.8 .5-.6 .5,.1 .5-1.4 .5-2.3 .5,.6 .5-2.6 .5,6 .5-2.7 .5-3.6 .5,5.1 .5-1.1 .5-2.4 .5-2.9 .5,2.2 .5,.8 .5,2.3 .5-4.4 .5-1 .5,7.9 .5-2.5 .5-3 .5-3.4 .5,3.9 .5,1.7 .5-1 .5,.2 .5-2.1 .5,3 .5-4.8 .5,.4 .5-.1 .5-.4 .5,7.1 .5-10.1 .5,5.4 .5-3.5 .5-.8 .5,3.7 .5-4.7 .5,3.9 .5,6.5 .5-6.8 .5,1.4 .5-3.7 .5,3.5 .5-5.6 .5,4.5 .5-1.1 .5,6.2 .5-6.5 .5-.9 .5-.7 .5-2 .5,5.3 .5,1.7 .5-5.3 .5,2.7 .5-3.2 .5,1.8 .5-.1 .5-5.5 .5,1.6 .5,4.6 .5-8 .5,5.3 .5-.7 .5-.9 .5,3.9 .5,2.1 .5,2.3 .5-7.1 .5,13.9 .5-4.3 .5,5.8 .5-2 .5-.3 .5,2 .5,9 .5-5.3 .5-6.8 .5-.3 .5,.4 .5-3.8 .5-3.5 .5-2.7 .5-3.9 .5,4.3 .5,.9 .5,3.4 .5-7.4 .5,3.9 .5-1.2 .5,4.4 .5-2.9 .5-.6 .5-1.9 .5,7.8 .5-.6 .5,3.7 .5-3.8 .5,9.7 .5-8.5 .5,4.1 .5,.2 .5,2.2 .5-3.3 .5-2 .5,0 .5,5.2 .5-1.9 .5,.8 .5-3.1 .5,2.7 .5,.3 .5,1.2 .5-5.7 .5,2 .5,7.1 .5-5.8 .5,.9 .5-.7 .5-3 .5,1.4 .5,4.2 .5-2.8 .5,7.8 .5-9.6 .5-1 .5,4.7 .5-2 .5,7.7 .5-4.7 .5,3 .5-4.9 .5,6.2 .5,.4 .5,2.1 .5-2.4 .5,1.3 .5-.6 .5,2.5 .5-3.3 .5,3 .5-2.7 .5,3.9 .5-2.5 .5-.8 .5,.2 .5,6.2 .5-8.2 .5,.4 .5,6.2 .5-4.4 .5,1.7 .5,.1 .5,8 .5-8.1 .5,.1 .5,1.2 .5,2 .5,1 .5-5.2 .5,5.6 .5,4.6 .5-10.1 .5,7 .5,1.1 .5-1.2 .5-.3 .5-5.3 .5,10.7 .5-3.5 .5,1.1 .5,4.8 .5-9.2 .5,7.1 .5,2.6 .5,1 .5,.3 .5,4.5 .5-4.4 .5,2.5 .5-.3 .5-5.8 .5,2.4 .5,8.4 .5-6.2 .5,1 .5-3.1 .5,3.1 .5-2.4 .5,2.3 .5,3.6 .5-3.5 .5,.9 .5,5.8 .5-2.1 .5,.4 .5,1.7 .5-4 .5,.7 .5-4.4 .5,8.1 .5-2.4 .5,.7 .5-2.8 .5,5 .5,.2 .5-1 .5-4.8 .5,2.3 .5,2.5 .5-2 .5,3.6 .5,2 .5-4.7 .5,1.9 .5-1 .5,5.1 .5,0 .5,5.5 .5-6.8 .5-1.8 .5,4.8 .5-.7 .5,2.3 .5,4.1 .5-3.1 .5,3.9 .5-6.9 .5,9.8 .5-1.8 .5-.5 .5-.3 .5,5.5 .5-5.5 .5,4.6 .5-5.5 .5,.8 .5,0 .5,3.8 .5-6 .5-1 .5-1.8 .5-1.6 .5-1.7 .5,6 .5-1.5 .5-6.4 .5,2.3 .5-3.8 .5,6 .5-.7 .5-1.6 .5-2.6 .5,4.4 .5-.4 .5-2.3 .5,2.6 .5-5.8 .5,2.1 .5-1 .5,3 .5,4.3 .5-4.5 .5,3 .5-3.2 .5-1.1 .5,4 .5-1.3 .5,2.4 .5-1.4 .5-5.2 .5-5.1 .5,7.2 .5-4.1 .5-1 .5-.7 .5,1.9 .5,.7 .5,.1 .5,5.2 .5-9.6 .5,2.8 .5-3.9 .5,.3 .5,2.5 .5,.6 .5-5.1 .5,6.5 .5-6 .5,5 .5-3 .5,2.4 .5-1.1 .5-2.6 .5,2 .5-5.3 .5-.1 .5,2.5 .5,4.6 .5-6.1 .5,.3 .5,6.2 .5-4.7 .5-.3 .5-3.1 .5,2.9 .5,1.3 .5-2 .5,2.1 .5-1.4 .5,1.9 .5-.8 .5-2.8 .5,2.7 .5,2.4 .5-4.3 .5-4.5 .5,3.8 .5-1.3 .5,7.6 .5-5.3 .5-5.5 .5,2.3 .5,4.2 .5-8.1 .5,1 .5,.4 .5-1.6 .5-2.5 .5,.8 .5-5.6 .5,1.1 .5-1.2 .5-.2 .5-.9 .5,.1 .5-1.4 .5-.3 .5,2.4 .5,2.3 .5,1.3 .5-4.5 .5,5.6 .5,3.2 .5-1.1 .5,3.8 .5-.3 .5,2.9 .5-4.3 .5,6.1 .5-2.6 .5-.9 .5,.8 .5,3.1 .5-.7 .5-2.6 .5,1 .5-4.4 .5-3.1 .5-2.6 .5,4.4 .5-1 .5-.1 .5-.4 .5,2.7 .5-6.5 .5-.1 .5,7 .5-3.7 .5-3.5 .5-5.4 .5,2.9 .5,.9 .5,.2 .5,.3 .5-1.6 .5,3.3 .5-7 .5,2 .5-1.7 .5,3.4 .5-2.3 .5,1.1 .5-2.7 .5,9.6 .5-9.1 .5-4.7 .5,1.6 .5-1.6 .5,2.9 .5,.3 .5-1.9 .5-1.6 .5-1.4 .5,6.4 .5-1.3 .5-11.4 .5,8.4 .5-2.5 .5,1.3 .5,5.8 .5-7.9 .5,.2 .5,9.8 .5-8.2 .5,.7 .5,3.9 .5-4.7 .5,1.6 .5,.6 .5,3.2 .5-8.4 .5,2.2 .5,1.9 .5,2.7 .5-4.6 .5,2.8 .5-3.2 .5-.1 .5,4.2 .5-4.8 .5,8.4 .5-7.8 .5,1.6 .5-1.5 .5-6.9 .5-.3 .5,5.4 .5-4.7 .5,1.4 .5,.6 .5-1.6 .5,6 .5-1 .5-1.5 .5,1.3 .5-3.9 .5,5.2 .5-4.5 .5,7 .5-5.9 .5,.6 .5,5.1 .5-1.1 .5-4.2 .5,4.7 .5-1.4 .5,.3 .5,1.9 .5,.2 .5,1.3 .5-1.3 .5-.3 .5-1.1 .5,4.5 .5-6.3 .5,7.6 .5,.8 .5,.1 .5-6.5 .5,6.4 .5-2.7 .5-.1 .5,6.2 .5-8.6 .5,1.1 .5-5.1 .5-2.6 .5,7.1 .5,.5 .5,.8 .5-1 .5-6.3 .5,6.7 .5,2.3 .5,1.5 .5-6.8 .5,.5 .5,.9 .5,.5 .5-2.3 .5,3 .5,6.8 .5-7 .5-1.8 .5,4.9 .5-.1 .5,3.7 .5-3.5 .5,2 .5-1.4 .5,0 .5,4.1 .5-.3 .5-.2 .5,1.9 .5-3.5 .5,2.7 .5,.8 .5,3 .5-8.3 .5,4.6 .5,2.6 .5-2.6 .5,2.3 .5,2 .5-.1 .5-5.8 .5,2.1 .5-3.8 .5,10.6 .5-.3 .5,4.2 .5-2.5 .5-2.2 .5,7.4 .5-5.5 .5,4.8 .5,.5 .5,3.8 .5,1.3 .5-3 .5-.3 .5,2.4 .5-1.3 .5,4.3 .5-1.9 .5,2.4 .5,2.7 .5-10.7 .5-.2 .5,1.9 .5-1.3 .5-3.2 .5-5 .5,11 .5-7.8 .5-4.2 .5-4 .5,10.4 .5-3 .5-.6 .5-2.4 .5,3.4 .5,.1 .5-4.9 .5,15.6 .5-5.3 .5-1.2 .5-.9 .5,1.7 .5,9 .5-5.6 .5-4.9 .5,6 .5-1.3 .5-.3 .5-2.3 .5-.6 .5,.6 .5-1.7 .5-3.8 .5,.6 .5,2.5 .5-4.9 .5,3.8 .5-.7 .5,2.9 .5-1.5 .5-1.1 .5,.3 .5,2.4 .5,1.9 .5-5.1 .5-.7 .5,2.8 .5-3.7 .5,5 .5,5.2 .5,1.1 .5,2.1 .5-3.5 .5,.7 .5-1.6 .5,.7 .5,2.8 .5,2.4 .5-.8 .5-6.4 .5,7.7 .5-.8 .5-1.1 .5,2.7 .5,2.7 .5-1.6 .5-1.9 .5,12 .5-10.8 .5,3.5 .5,2.6 .5-5.7 .5,4.3 .5-3.8 .5,1.8 .5-1.3 .5,7.1 .5-9 .5,5.1 .5-1.7 .5-6.2 .5,10 .5-7.1 .5,.3 .5,.7 .5-3.8 .5-.3 .5,1.5 .5-3 .5,2.3 .5,2.9 .5-6.8 .5-1.8 .5,4.1 .5,1.5 .5,.7 .5-5 .5-3.5 .5,9.1 .5-.4 .5,2.2 .5-7 .5,4.3 .5,1.3 .5-8 .5,8.1 .5,1.1 .5-2.4 .5-.1 .5,.5 .5-2.8 .5-3.3 .5,1.4 .5,2.1 .5-1.9 .5,5.3 .5-4 .5,.8 .5-4.6 .5,6.1 .5-3.1 .5,6.2 .5-9.1 .5,5.7 .5-2 .5,.1 .5,5.8 .5-2.1 .5-5.1 .5,6.4 .5-5.8 .5,4.1 .5-7.1 .5,3.9 .5,.1 .5-.2 .5-3.7 .5-1.1 .5,5.1 .5,1.4 .5-1.9 .5-1.5 .5-3.6 .5,3 .5-1.3 .5-.9 .5,2 .5-.5 .5,.2 .5-2.4 .5-2.1 .5,1.3 .5-.9 .5-4.2 .5,3.1 .5-4.2 .5-1.6 .5,2.5 .5-.2 .5,2.9 .5-3.6 .5,1.5 .5,1.7 .5-4.6 .5,0 .5-3.8 .5,3.5 .5-2.8 .5-.6 .5-3.8 .5,.1 .5,.4 .5,2 .5,2.7 .5-7.3 .5,3.3 .5,.2 .5,7.4 .5-6.8 .5-.8 .5,3.7 .5-5 .5,4.8 .5-6 .5,10.5 .5-5.6 .5-.9 .5-2.3 .5,3.4 .5,.8 .5-2.2 .5,5.5 .5-4.2 .5,1.2 .5,.5 .5,2.8 .5-5.2 .5,.9 .5,.2 .5,.4 .5-7.4 .5,7.7 .5-4.2 .5-2.3 .5,1.2 .5-5.9 .5,2.6 .5,2 .5,2.8 .5-4.6 .5,.7 .5-2.5 .5,2.7 .5-4.1 .5,1.8 .5-2.8 .5-2.4 .5-.7 .5,.4 .5,4.4 .5,5.1 .5-10.1 .5-2.2 .5,3 .5-.8 .5-3.5 .5,6.2 .5-3.6 .5-.5 .5-3.3" stroke="#0072BD" stroke-width="5.8" fill="none" stroke-linejoin="round" stroke-linecap="butt"/><path d="M189,1005.5l.5-1.8 .5,.4 .5-5.6 .5,12 .5-1.8 .5-4 .5,3.1 .5-1.3 .5-2.3 .5,4.3 .5-3.5 .5-.1 .5-1.2 .5,3.5 .5-1.5 .5,1.8 .5-3.2 .5,2 .5-2.8 .5,4.9 .5-1.9 .5,.4 .5,.2 .5-4 .5,5 .5,3.5 .5-10.4 .5-.3 .5,.5 .5,6.4 .5-2.1 .5,2.6 .5-1.2 .5-1.5 .5,.1 .5-1.4 .5,2.7 .5-5.7 .5,1.9 .5,1.7 .5,4.2 .5-7.2 .5-1 .5,1.3 .5,4.2 .5-3.4 .5,4.3 .5-9 .5,8.3 .5-.3 .5-7 .5,4.3 .5,2.9 .5-3.2 .5,2.5 .5,3.7 .5-6 .5-1.7 .5-1.5 .5,3.9 .5-2.6 .5-.1 .5-.1 .5,1.7 .5-5.5 .5-2 .5-3.5 .5,9.1 .5-4.4 .5,2.7 .5-5.7 .5-3.7 .5,1.8 .5-3.3 .5-5.2 .5-.9 .5,5.5 .5-6 .5-1.9 .5-4.1 .5-3.3 .5,2.3 .5-5.2 .5-4.6 .5-1.4 .5-5.7 .5-.7 .5-1.5 .5-9.7 .5,1.8 .5-10.4 .5-2.5 .5-7.5 .5-3.1 .5-4.1 .5-6.1 .5-5.4 .5-4.5 .5-4.8 .5-6.3 .5-.3 .5-1.9 .5-2.1 .5-4.1 .5,1.7 .5-9.3 .5-5.4 .5,3.3 .5-11.3 .5,2.6 .5-8.5 .5,.7 .5-9.5 .5,5 .5-6 .5-5.2 .5,4.4 .5-5.5 .5-5.1 .5-5.2 .5-1.1 .5-3.5 .5-.6 .5-3 .5-7.4 .5-3 .5-3.3 .5-5.6 .5-1.3 .5-1.9 .5-1.2 .5-1.5 .5-9.3 .5,.6 .5-6 .5,4 .5-9 .5-1.4 .5-6.9 .5-2.4 .5,.2 .5-4.1 .5-.3 .5-7.6 .5,4.1 .5-6.5 .5,5.3 .5-7.6 .5,1.9 .5-8.8 .5,3.2 .5-5.5 .5-.8 .5-.4 .5-2.9 .5-.3 .5-.6 .5-2.4 .5-4.3 .5-6 .5-.9 .5-.8 .5-7.8 .5,5.7 .5-4.9 .5-2 .5,1.6 .5-2.1 .5-2.2 .5-4.1 .5,3.2 .5-.4 .5-3.9 .5,4.9 .5-1.9 .5-7.3 .5,5.6 .5-4.2 .5,6.6 .5-1.1 .5-5.5 .5,.6 .5,2.8 .5-.8 .5,5.2 .5-1.8 .5-2.4 .5,2.9 .5-6.7 .5,7.2 .5,2.2 .5-2.1 .5-.7 .5,4.5 .5,4.8 .5-4 .5-2.8 .5,8.2 .5-8.3 .5,7.7 .5-2 .5,5.2 .5-3.9 .5,7.3 .5-1.6 .5-4.2 .5,.8 .5,6.3 .5,6.2 .5-1.5 .5,1.6 .5,1.1 .5,4.6 .5,.9 .5,1.7 .5-1.6 .5,8 .5,2.5 .5-5.4 .5,12.3 .5-2.2 .5-1.1 .5-1.6 .5,9.6 .5,2.2 .5-.8 .5-.9 .5,10.6 .5-2.3 .5,2.7 .5,11.7 .5,.4 .5-1 .5-1.5 .5,5.5 .5-5.7 .5,9.1 .5,.1 .5,.9 .5,1.6 .5,8.3 .5,1.2 .5,2.5 .5,4.1 .5-2.5 .5,1 .5,.4 .5,6 .5,4.9 .5-.8 .5,4 .5-3.4 .5,3.6 .5,.8 .5,.3 .5,10.3 .5-1.3 .5-3 .5,1.5 .5,3.6 .5-2.4 .5,6.8 .5-3.3 .5,4.1 .5-.3 .5,3.1 .5-.7 .5,1 .5,3.4 .5,2.7 .5,2.9 .5,3 .5,6 .5,0 .5-1 .5,4.6 .5-2 .5,7.8 .5-.7 .5-3.6 .5,7.5 .5,1.6 .5-8.4 .5,6.6 .5,1.9 .5-3.2 .5,3.1 .5,.9 .5,4.7 .5,0 .5,7 .5-8 .5,4.8 .5-2.7 .5,.8 .5-3.8 .5-2.1 .5,3.2 .5,3.9 .5,1.9 .5-3.4 .5-1 .5-4.6 .5,5.6 .5-1.6 .5-6.4 .5,.1 .5-3.9 .5,5.6 .5-4.3 .5-2.7 .5,.1 .5-1.2 .5-3.9 .5-4 .5-1.9 .5-3.1 .5,4.2 .5,2.8 .5-13 .5,2.9 .5-1.4 .5-6.2 .5,1 .5-5.9 .5,4.2 .5-7.3 .5-.3 .5-.6 .5-5.5 .5-6.2 .5,1.1 .5,1.2 .5-4.9 .5-1.7 .5-6.2 .5,.9 .5-1 .5-4.6 .5,2.6 .5-8.5 .5-5 .5-4.3 .5,5 .5-6.1 .5,.2 .5-4.3 .5,.4 .5-3.8 .5-7.5 .5-1 .5-.6 .5-9.4 .5,4.6 .5-3.6 .5-3.5 .5-6.3 .5-1.5 .5-7.1 .5,.1 .5-5.1 .5-1.4 .5-5 .5-1.1 .5-.8 .5-10.1 .5,3.1 .5-11.1 .5-3.3 .5,3.1 .5-2 .5-1 .5-7.8 .5,2.5 .5-1.3 .5,1.4 .5-5.5 .5,.2 .5-5.8 .5,.7 .5-2.2 .5,1.8 .5-6.2 .5-.9 .5,2.6 .5,2.1 .5-5.3 .5-1.5 .5-3.1 .5,2.7 .5-2.8 .5,2.1 .5-5.3 .5-5.1 .5-.4 .5-2.7 .5-2.3 .5,5.5 .5-2.8 .5-7.2 .5,7.2 .5-5.5 .5-4.4 .5,2.9 .5-1.9 .5-2.4 .5-3.4 .5,5.6 .5,.9 .5-7.8 .5,9.2 .5,.6 .5-2.5 .5,2.3 .5-.4 .5-.8 .5,2.2 .5,5.7 .5-6.9 .5,5.7 .5,.9 .5-1.5 .5,1.8 .5-1.7 .5,2.6 .5,3.5 .5,1.9 .5-2.4 .5,12.2 .5-8.9 .5,3.2 .5,.3 .5,.9 .5,6.2 .5-3.5 .5,6.7 .5,1.1 .5-4.5 .5,7.6 .5-3 .5,11.3 .5-6.8 .5,.4 .5-.8 .5,3.8 .5,4.1 .5,.9 .5,1.6 .5,4 .5,4.1 .5,7.4 .5-5.8 .5,6.3 .5,2.1 .5,1.7 .5,4 .5,4.3 .5,7.8 .5,.7 .5,2.2 .5,6.2 .5,2 .5,1.4 .5,4.5 .5-.6 .5,6.8 .5,2.3 .5,.2 .5,.5 .5,10.3 .5-1.3 .5,10.9 .5-7.8 .5,6.8 .5-1 .5,4.4 .5,4.1 .5-2.1 .5,4.4 .5,3.1 .5,2.3 .5,3.7 .5,3.5 .5,1.8 .5,.7 .5,.6 .5,0 .5,3.4 .5,2.9 .5,5.7 .5-.6 .5-.2 .5,7.6 .5-1.5 .5,2.5 .5,4.1 .5,4.5 .5-5.6 .5,6.1 .5,6.1 .5,1 .5,.9 .5,3.2 .5,7.6 .5-3 .5,5.2 .5,2 .5-1.7 .5,4.4 .5-.6 .5,1.4 .5,.4 .5,7.4 .5-1.9 .5,1 .5-.4 .5,9.2 .5-2.2 .5-2.1 .5-1.5 .5-2.4 .5,5.1 .5-.1 .5-4.8 .5,7.1 .5-1.2 .5-5 .5,1 .5,.2 .5,1.5 .5-1 .5-4.4 .5,8.5 .5-3.5 .5,2.4 .5-.2 .5-4.4 .5,1.2 .5,.5 .5-.8 .5-3.6 .5-2.4 .5,.5 .5-3.8 .5-.8 .5-5.8 .5,4.3 .5-4.8 .5-.4 .5-.3 .5-.7 .5,2.8 .5-6.3 .5-6.2 .5,2.6 .5-3.7 .5,1 .5-4.9 .5-2 .5-1.4 .5-2.3 .5-5.5 .5,1.1 .5-.4 .5,1 .5-6.6 .5-2.7 .5-.1 .5-3.2 .5-.4 .5-6.3 .5-5.5 .5,0 .5-3.5 .5-9.6 .5-2.3 .5-9.2 .5-.3 .5-5.4 .5-1.9 .5-4.3 .5-2.5 .5-3 .5-1.4 .5-3.7 .5-5.1 .5-4.9 .5,4.3 .5-2.3 .5-7.9 .5,.2 .5-8.6 .5-2.7 .5,.9 .5,2.1 .5-9.8 .5-2.2 .5,4 .5-12.8 .5,4.1 .5-3.6 .5-5.2 .5-2.4 .5,2.9 .5-14.6 .5-2.1 .5-4.4 .5-5.8 .5-6.5 .5,3.7 .5-8.2 .5-9.7 .5-.9 .5-.3 .5-3.1 .5-7.6 .5,1.8 .5-.5 .5-1 .5-1.3 .5-7.5 .5,9.2 .5-5.6 .5,3.5 .5,2 .5-9.3 .5-3.9 .5,5.1 .5-3.7 .5-1.5 .5-2.3 .5,6.8 .5-6.7 .5-3.5 .5,1.9 .5-2.8 .5,2.8 .5-2.4 .5-2.5 .5,3.9 .5-4.1 .5,3.2 .5,1 .5-4.9 .5-1.1 .5,2.1 .5,1.9 .5-2.5 .5,.6 .5-.3 .5,1.2 .5,1.2 .5-3.3 .5,1 .5,2 .5-1.5 .5,2.9 .5,1.7 .5-.6 .5,.1 .5,1.8 .5,9.8 .5,.8 .5-2.1 .5,4.6 .5,11.6 .5,3 .5,.2 .5,6.9 .5-3.6 .5,7.8 .5,5.3 .5-4.3 .5,6 .5,7.2 .5,3.9 .5-2.1 .5,5.3 .5,6.4 .5-2.8 .5,.1 .5,6.3 .5,1.8 .5,7.5 .5-.4 .5,.1 .5,11.9 .5-5.2 .5,5.7 .5,3.6 .5,3.4 .5,1.5 .5,4.4 .5,1.6 .5-.2 .5,7 .5,3.7 .5,3.8 .5,4.7 .5,1.7 .5,9.3 .5,4.5 .5-6.8 .5,10 .5,1.6 .5-1.6 .5,11.9 .5,.7 .5,4.2 .5,2.7 .5,8.4 .5,4 .5,.8 .5,4.6 .5,1.2 .5,4.1 .5,.8 .5,5.4 .5,1.1 .5,6.1 .5,4.3 .5,1.4 .5,5.2 .5,7.1 .5-10.6 .5,8.8 .5,1.2 .5,3.2 .5,.2 .5,6.7 .5,1.8 .5,1.6 .5,3.6 .5,1.5 .5-2.6 .5,11.8 .5-1.8 .5,.2 .5,5.3 .5-1.1 .5-2.8 .5,9.8 .5-6.1 .5,5.3 .5,2 .5,4.6 .5,.6 .5-1.8 .5-1.6 .5,1.9 .5,5.1 .5,2.9 .5-2.7 .5-2.6 .5,5.4 .5-3.4 .5,.5 .5,.8 .5,2.8 .5-.6 .5,2.1 .5,.9 .5-2.2 .5-8.2 .5,1.4 .5,4.6 .5-1.3 .5,5.5 .5-7 .5-1.4 .5,2 .5-.9 .5-4.9 .5,.6 .5-6 .5-.9 .5,4.5 .5-9 .5,4.8 .5-2.3 .5-1.5 .5-1.3 .5-3 .5-9.9 .5,.4 .5-1.9 .5,.9 .5-9.4 .5-2.5 .5-3 .5,.7 .5-11.8 .5-3.8 .5,1.5 .5-11.7 .5,3 .5-5.9 .5-6.7 .5-.3 .5-5.2 .5-.3 .5-3.1 .5-.4 .5-7.8 .5-3.3 .5-5.6 .5-2.1 .5-.7 .5-12.1 .5,3.5 .5-7.2 .5-2.2 .5-3.2 .5-2.6 .5-5.9 .5-6 .5-2.3 .5-5.1 .5-4.9 .5-3.2 .5-2.5 .5-6.3 .5-4.2 .5-8.2 .5-.8 .5-8.8 .5,3.3 .5-8.4 .5,2.6 .5,1.1 .5-13.1 .5,1.3 .5-6.1 .5-6.1 .5-4.2 .5,.5 .5-1.1 .5-6.3 .5-8.6 .5-2.1 .5-1.2 .5,1 .5-6.6 .5-3.7 .5-1.2 .5-7.4 .5-2.6 .5-2.8 .5-6.8 .5,4.1 .5-2.3 .5-.4 .5-7.9 .5-.7 .5,3.3 .5-3.2 .5,1.5 .5-7.5 .5,1.7 .5-3.6 .5,1.5 .5-3.5 .5,1.7 .5,.4 .5-2.2 .5-7.9 .5,6.8 .5-2.2 .5-4.8 .5,0 .5,2.1 .5,1.4 .5-2.8 .5-3 .5,5.8 .5,.3 .5,7.2 .5-9.5 .5,11.8 .5-1.1 .5-2.8 .5,5 .5-3.1 .5,3.7 .5-3.6 .5,3.3 .5-2 .5-.7 .5,4.6 .5-.2 .5,4.3 .5,2.9 .5-3.1 .5,1.6 .5,1.4 .5-4.2 .5,6.7 .5,.6 .5,1.2 .5-1.3 .5-.7 .5,6.7 .5,3.9 .5,6.7 .5,4.8 .5,7.5 .5,4.2 .5,9.8 .5,3.8 .5,9.5 .5,7.2 .5,10.1 .5-2.5 .5-.3 .5,11.2 .5-2.5 .5,5.4 .5,2.5 .5,1.4 .5,9.3 .5,.9 .5-.4 .5,4.9 .5,1.6 .5,6.1 .5,.4 .5,2.4 .5,3.8 .5,4.2 .5,5.7 .5,.3 .5,6 .5,5.2 .5,9.1 .5-.4 .5-7 .5,10.6 .5,4.1 .5,5.6 .5,7.2 .5,1.3 .5-5 .5,10.7 .5,2.9 .5,4.3 .5,6 .5-3.5 .5,9.4 .5-4.4 .5,8.1 .5,4.2 .5,8.6 .5-5.1 .5,.5 .5,10 .5-.5 .5,9.6 .5-3 .5,3 .5,9.5 .5,.4 .5,6.2 .5-3.1 .5,12.2 .5-2.7 .5,7.5 .5-1.7 .5,1.7 .5,6.7 .5,4.2 .5,6.6 .5-.9 .5,3.4 .5,2.3 .5,9.4 .5-8.5 .5,8.3 .5-1.5 .5,3.4 .5-.1 .5,6.8 .5-5 .5,1.3 .5,4.4 .5-1.7 .5,5.8 .5,.8 .5-4.8 .5,4.1 .5-4.5 .5,1.2 .5-.6 .5,4.4 .5-6.2 .5-3.6 .5-1.2 .5,4.7 .5-9.4 .5,2 .5-1.2 .5-7.3 .5,4 .5,2.5 .5-3.7 .5-4.8 .5,2.8 .5-2.1 .5,2.6 .5-9.7 .5-1 .5-1.1 .5-2.8 .5-1.9 .5-3.2 .5-4.4 .5-5.4 .5,0 .5-5.3 .5-2.1 .5-1.7 .5-.2 .5-2.2 .5-8.5 .5,.6 .5-1.7 .5-5.5 .5-7.5 .5-4.5 .5,5.2 .5-2.8 .5-4.9 .5-6.8 .5,3.8 .5-3.9 .5-6.8 .5-3.9 .5-8.2 .5,4.1 .5-10.2 .5,2.8 .5-3.5 .5-5.6 .5,.2 .5-9.3 .5-1.7 .5-3.7 .5-6 .5-6.4 .5,.1 .5-7 .5-6.4 .5-4.6 .5-3.9 .5,1.3 .5-10.8 .5-5.6 .5-7 .5-4.9 .5-6.5 .5,1.5 .5-5.1 .5-7.5 .5-5.8 .5-1.3 .5-5.1 .5-6.9 .5-.1 .5-5.2 .5-5.3 .5-2.6 .5-8.9 .5,.5 .5-12.1 .5-1.8 .5-6.1 .5-9.3 .5-5.1 .5-11.4 .5-7.1 .5-2.4 .5-6.9 .5-1 .5-5.4 .5-1 .5-2.8 .5-2.2 .5-2.2 .5-3 .5-2 .5,5.5 .5-12 .5,3.1 .5,2.2 .5-2.6 .5,2 .5-3 .5-5.5 .5,2.4 .5-3 .5,6.8 .5,1.4 .5-5 .5,3.1 .5-2.3 .5-2.5 .5,3.3 .5-2.7 .5,3.4 .5,2.7 .5,2 .5,2.2 .5-4 .5,2.2 .5,1.1 .5,1 .5-8.8 .5,6.5 .5,5.2 .5-4.5 .5,4.8 .5,2.7 .5-6.4 .5,6.1 .5,2.7 .5,1 .5-2.4 .5,8.6 .5,3.1 .5,10.5 .5,5.4 .5,2.6 .5,6.2 .5,1.5 .5,3.6 .5,1 .5,7.1 .5,6.1 .5,1.1 .5,2.6 .5,1.3 .5,3.3 .5,6.5 .5-3.1 .5,13.1 .5-2.6 .5,9.8 .5,.9 .5-.8 .5,7 .5,2.5 .5,4.4 .5,4.9 .5,.2 .5,3.9 .5,4.6 .5,1.6 .5,7.4 .5,5.7 .5,4.6 .5,4.5 .5,3.4 .5,8.4 .5-2.7 .5,9.9 .5,5.4 .5,8.6 .5,4.3 .5,5.1 .5,2.3 .5,6.9 .5-1.3 .5,7.1 .5-2.1 .5,14.7 .5,3.5 .5-2.2 .5,3.1 .5,.4 .5,5.4 .5,8.6 .5,3.1 .5,.4 .5,6.7 .5,3.6 .5,7.3 .5,4.7 .5,1.5 .5,5 .5,3.7 .5-1.9 .5,10.3 .5,3.3 .5,6.1 .5-3.4 .5,11.1 .5,0 .5,6.5 .5,6.6 .5-3.6 .5,4.3 .5,10.2 .5-2.4 .5,3.9 .5,7.6 .5,.7 .5,5.5 .5,1.2 .5,1.6 .5,5.2 .5,5.8 .5-4.2 .5,6.6 .5,1.1 .5-.9 .5,2.7 .5-2.2 .5,2.3 .5,3.8 .5,.2 .5,4.9 .5-6.1 .5,3.8 .5-.1 .5,2.1 .5,4.1 .5-6.5 .5,5.6 .5-4.6 .5-.1 .5,2.5 .5-5 .5,.9 .5-3.4 .5-2.8 .5-2.7 .5-6.2 .5,.5 .5,.2 .5-2.3 .5-7.1 .5,4.8 .5-3.5 .5-7.7 .5-1.8 .5,1.7 .5-9.1 .5-.1 .5-1.1 .5-3.3 .5-3.1 .5-2.2 .5-6.8 .5-2.8 .5,3.3 .5-13.9 .5-2 .5-3.3 .5-7.3 .5,0 .5-8.6 .5-3.5 .5-14.8 .5,5.5 .5-5.2 .5-10.3 .5,.8 .5-7.9 .5-3.2 .5-2.5 .5-9.8 .5-8.1 .5-2.2 .5-8.5 .5-3.7 .5-4.9 .5-4.9 .5,.3 .5-5.9 .5-9.9 .5,.7 .5-12.9 .5-2.1 .5-3.5 .5-1.3 .5-6.3 .5-5.8 .5-2.6 .5-6.6 .5-3.2 .5-11 .5-7.5 .5-1.5 .5-1.5 .5-6.6 .5-3.2 .5-5.6 .5-5.5 .5-4.2 .5-9.4 .5,.1 .5-10.9 .5-2.5 .5-8.7 .5,.4 .5-10.6 .5,3.4 .5-12.8 .5-.9 .5-6.7 .5-7.6 .5,.5 .5-9.9 .5,.5 .5-11.2 .5-2.9 .5-6.1 .5,5.1 .5-.9 .5-3.7 .5-2.6 .5-3.6 .5,7.9 .5-5.7 .5-8.4 .5,3.2 .5-7.5 .5,10.7 .5,0 .5-2.5 .5-5.3 .5-2.5 .5-3.2 .5,4.7 .5-4.2 .5,.7 .5-.9 .5,1.1 .5,3.8 .5,2.8 .5-3.6 .5,.5 .5-2.2 .5,.8 .5,1.5 .5,6.6 .5-.8 .5,3.1 .5-.5 .5-1.3 .5-1.2 .5,3.7 .5-1.6 .5,11.2 .5-3.1 .5,.2 .5,9 .5-3.2 .5,8.1 .5,4.8 .5,8.9 .5,5.7 .5,9.8 .5,9.1 .5-2.4 .5,2 .5,14.5 .5,.9 .5,6 .5,.6 .5,8.9 .5,4.5 .5-4.8 .5,8.9 .5,.1 .5,1 .5,7.6 .5,6.4 .5-1.5 .5,4.1 .5,10.9 .5,.5 .5,4.9 .5-.5 .5,5.3 .5,6.2 .5,4.3 .5,4.1 .5,8.4 .5,.4 .5-.1 .5,6.6 .5,7.3 .5,8.8 .5-.4 .5,6 .5,6.2 .5,3.2 .5,4.8 .5,6.6 .5,8.6 .5,3.7 .5,3 .5,7.1 .5,.4 .5,11.5 .5,4.2 .5,3.6 .5-.8 .5,14.8 .5-9.7 .5,9.7 .5,4.3 .5,8.6 .5-2.3 .5,8.8 .5,2.8 .5,3.4 .5,7.1 .5,5.5 .5,1 .5,2.1 .5-1.6 .5,14.7 .5-.7 .5-.2 .5,10 .5,7.9 .5-.3 .5,1.2 .5,13.7 .5-.8 .5,2.8 .5,5.3 .5-5.8 .5,9.1 .5,2.7 .5,9.9 .5-5.1 .5,2.8 .5,.4 .5,4.2 .5,4.2 .5,3.6 .5,.9 .5,8.3 .5-2.5 .5,2.2 .5,4 .5-.3 .5-1.5 .5-1.2 .5,6.9 .5-2.1 .5,7 .5-5.3 .5-3.9 .5,6.2 .5,2.3 .5-4.6 .5-.3 .5-1.6 .5,2.6 .5-6.1 .5-3.1 .5-3.9 .5-5.2 .5,6.4 .5-3 .5-8.2 .5,2 .5-3.4 .5-4.8 .5-2.8 .5-.1 .5-8.7 .5-1.3 .5-2.1 .5-3 .5-3.9 .5-1.9 .5-2.2 .5-7 .5,0 .5-4.6 .5,3.1 .5-11 .5,.5 .5-.1 .5-5.7 .5-3.2 .5-3.8 .5-.9 .5-7.7 .5-.8 .5-4.2 .5-8.5 .5,0 .5-7.2 .5-3.1 .5-3.8 .5-6.9 .5-9.7 .5-.9 .5-10.5 .5-2.5 .5,2.2 .5-9.5 .5-.3 .5-9.8 .5-4.4 .5-8.2 .5,.6 .5-8.7 .5-3.4 .5-6.8 .5-6.2 .5-7.4 .5-7.9 .5-6.9 .5-8.8 .5-10.9 .5,.7 .5-2.4 .5-9.8 .5-3.4 .5-12 .5-10.6 .5-6.2 .5-.9 .5-6.6 .5-6.6 .5-2.5 .5-9.4 .5-.9 .5-7 .5-3.5 .5-1.9 .5-8.7 .5-.8 .5-5.6 .5-11.6 .5,2.9 .5-16 .5-2.7 .5-3.5 .5-14.2 .5,4.1 .5-4.7 .5-8 .5-2.9 .5-3.5 .5-4 .5,1 .5-6.6 .5-1.3 .5-1 .5-.6 .5-1.1 .5-9.2 .5-3.2 .5,3.7 .5-1.4 .5-4.6 .5,2.1 .5-.9 .5-2.4 .5,2 .5-9 .5,1.9 .5,4.8 .5-3.8 .5-4.8 .5,4.6 .5,4.1 .5,4.2 .5-2.1 .5,3.6 .5-4.2 .5,4.7 .5,6.3 .5-3.9 .5,5 .5-2.6 .5,12.3 .5-1.7 .5,5 .5-2.7 .5,3.8 .5,12.2 .5-2.7 .5,2.9 .5,6.5 .5,4 .5-3.2 .5,6.9 .5,7.2 .5,4.3 .5,5.4 .5,2.2 .5,4.9 .5,5.8 .5,1.7 .5,3.9 .5,4.9 .5,5.6 .5,3.4 .5,3 .5,4.5 .5,4.4 .5,4.9 .5,4 .5-.7 .5,10.4 .5-3.2 .5,10.3 .5,.9 .5,8.2 .5,6.1 .5-3.4 .5,12 .5,4.2 .5,3 .5,7.6 .5,2.7 .5,6.9 .5,1.7 .5,10.1 .5,4.3 .5,5.2 .5,.8 .5,11.8 .5,5.3 .5-.9 .5,4.2 .5,5.4 .5,8.7 .5,6.9 .5,1.4 .5,3 .5,13.9 .5,5.6 .5,7.5 .5,7.9 .5,2.1 .5,10.2 .5,5.9 .5,8.8 .5,9.3 .5,3.2 .5,3.9 .5,11.9 .5,4.2 .5,2.9 .5,.8 .5,7.7 .5,7.9 .5,6 .5,1.8 .5,7.4 .5,1.5 .5,5.1 .5,7.2 .5,2.3 .5,5.7 .5,6.7 .5,5.2 .5-.5 .5,5.2 .5,1 .5,3.8 .5,8.1 .5,.9 .5-.9 .5,9.2 .5-1.4 .5,4 .5,4.5 .5,2.3 .5,.8 .5-3.7 .5,8.7 .5-2.3 .5-1.7 .5-2.2 .5,9.9 .5-3.4 .5-.3 .5,1.2 .5-2.1 .5-4.3 .5,5.7 .5,.5 .5-1.8 .5,2.4 .5,.5 .5-8.1 .5,.3 .5,3.1 .5-2.8 .5-1.7 .5-.8 .5-4 .5-7.4 .5-2.9 .5-7 .5-3.3 .5-7.2 .5-6.7 .5,.2 .5-4.2 .5,.4 .5-1.9 .5-8.2 .5-2.6 .5-7 .5-4.8 .5-2.2 .5-4.1 .5-2.6 .5-4.8 .5-.1 .5-9.8 .5-8.7 .5,0 .5-7.2 .5-2.6 .5-2.6 .5-10.1 .5-3.6 .5-3.5 .5-9.1 .5-1.7 .5-3.9 .5-4 .5-4 .5-6.3 .5-5.3 .5-10 .5-8.7 .5-.6 .5,1.1 .5-9.7 .5-13.3 .5-1.8 .5-4.9 .5-13.3 .5,0 .5-11.2 .5,.3 .5-8.1 .5,3.6 .5-17.1 .5-.1 .5-9.4 .5,2.7 .5-7.7 .5-2.9 .5-7.8 .5-9.6 .5-5.3 .5-9 .5-7.3 .5-4.8 .5-5.6 .5-8.7 .5-8.8 .5-10.6 .5-3.9 .5-10.1 .5-3.2 .5-4.4 .5-8.9 .5-6.8 .5-5.7 .5-2.9 .5-8.2 .5-8.6 .5-2.5 .5-6.9 .5,2.2 .5-8.8 .5-8.7 .5,.7 .5-2.7 .5-4.7 .5-5.4 .5-1.8 .5-2.7 .5-.8 .5-4.5 .5,2.8 .5-9.1 .5,2.9 .5-5.8 .5-6.2 .5,.2 .5-3.2 .5-.9 .5,7 .5-6.1 .5,2.7 .5-4.7 .5,2.2 .5-2.9 .5,5.9 .5-2.2 .5,.7 .5,2.3 .5,8.1 .5-3 .5,2.8 .5-4.2 .5,3.3 .5,4.2 .5-4.3 .5,10.7 .5-1 .5,1.3 .5,1.7 .5,2.3 .5,1.9 .5,8.3 .5,1.6 .5,5.5 .5,.1 .5,3.1 .5,11.3 .5-1.8 .5,7.2 .5,9.5 .5,6.8 .5-.7 .5,8.8 .5,6.8 .5,5.4 .5,3.6 .5,9.9 .5,2 .5,5.8 .5-.7 .5,10.8 .5-.3 .5,12.1 .5,4.2 .5,2.1 .5,6.9 .5,5.1 .5,4.7 .5,7.2 .5,4.9 .5,5.5 .5,5.9 .5,13.8 .5,2.8 .5,6.4 .5,8.8 .5,3.6 .5,6.7 .5,9.5 .5,7.7 .5,5.7 .5,.7 .5,10.9 .5,6.5 .5,8.2 .5,3.2 .5,6.5 .5,9.4 .5,4.6 .5,5.8 .5,8.8 .5,8.3 .5,2.8 .5,7.5 .5-1.3 .5,9.3 .5,2.5 .5,2.3 .5,6.3 .5,4.2 .5,7.7 .5,5.3 .5,13.3 .5,3.9 .5,5.8 .5,12.1 .5,10 .5,5.8 .5,10.1 .5,1.8 .5,6.6 .5,13.2 .5,1.5 .5,7.3 .5,5.3 .5,5.4 .5,3.3 .5,3.8 .5,7.8 .5-.2 .5,5.7 .5,5.3 .5,.7 .5,.5 .5,8.9 .5,5.1 .5,1 .5-2.1 .5,9.5 .5,6.8 .5-6.6 .5,0 .5,9.9 .5,3.9 .5,5 .5,2.9 .5,.8 .5,3.8 .5,1.8 .5,1.5 .5,1.4 .5,1.6 .5,4.2 .5,.9 .5-.6 .5,5.5 .5-4 .5,1.9 .5,1 .5-6.1 .5,3.3 .5,2.1 .5-1.7 .5-7.2 .5-1 .5-2.7 .5,.3 .5-1.5 .5-6.1 .5,3.3 .5-2.7 .5-2.5 .5-3.9 .5-1.1 .5-6.9 .5,2.7 .5-3.1 .5-4.1 .5-6.5 .5,2.3 .5-5.6 .5-14 .5,.1 .5-7 .5-13.6 .5,2.4 .5-5.2 .5-5 .5-6.5 .5-7 .5-4.4 .5-1.9 .5-3 .5-9.4 .5-4.5 .5-2.6 .5-13.4 .5,1.2 .5-8.1 .5-11.9 .5,1.3 .5-11.5 .5-2.3 .5-5.4 .5-14 .5-6.7 .5-3.4 .5-11.4 .5,.1 .5-8.1 .5-4.5 .5-14.4 .5-1.1 .5-5.9 .5-12.9 .5,.7 .5-12.9 .5-2.4 .5-10.7 .5-.9 .5-4.2 .5-11.2 .5-6.7 .5-3.2 .5-11.4 .5-5.3 .5-4.6 .5-7.7 .5-3.5 .5-7.5 .5-4.3 .5-11.6 .5-3.3 .5-11.9 .5-2.3 .5-5.2 .5-6.7 .5-19 .5-6.9 .5-7.6 .5-14.5 .5-5.9 .5-9.3 .5-11.2 .5-8 .5-8.9 .5-4.3 .5-4.9 .5-10 .5-.1 .5-18.1 .5-3.6 .5-2 .5-9.7 .5-.1 .5-2.8 .5-5.6 .5-4.7 .5,.1 .5-4.1 .5-1.2 .5-1.6 .5-4.1 .5-1.8 .5,1.5 .5,1 .5-1.4 .5,2.8 .5-2.2 .5,1.6 .5-2.6 .5-2.6 .5,4 .5-1.2 .5-4 .5,.8 .5,8.4 .5-17.3 .5,12 .5-3.3 .5-.7 .5-1 .5-.9 .5,7.7 .5-7.9 .5,.3 .5,3 .5-.6 .5,.1 .5,2.4 .5,.6 .5,10.9 .5-1.2 .5,1.5 .5,15.1 .5,4.9 .5,4.6 .5,3.3 .5,10.3 .5-1 .5,2.6 .5,12.7 .5,8.4 .5,6.3 .5,10.9 .5,3.5 .5,3.9 .5,6.7 .5,9.4 .5,3.2 .5,5.3 .5,.6 .5,9 .5,2 .5,8.9 .5,4.4 .5,6.3 .5,7.8 .5-.5 .5,9.8 .5-1.6 .5,9.5 .5,8.3 .5,9 .5-1.9 .5,9.2 .5,8.2 .5,6.7 .5,5.5 .5,7 .5,10.6 .5,12.9 .5,5.8 .5,17.3 .5,6.3 .5-1.3 .5,11.2 .5,12 .5,7.2 .5,5.9 .5-.2 .5,9.8 .5,11.3 .5,3.4 .5,5 .5,9.3 .5,8 .5,4.2 .5,7 .5,9 .5,2.2 .5,5.7 .5,11.4 .5,1.2 .5,11.3 .5,3.1 .5,10.9 .5,.8 .5,13 .5,4 .5,4.7 .5,4.6 .5,7.9 .5,3.6 .5,4.8 .5,11.9 .5,4.2 .5,7.1 .5-2.2 .5,3.1 .5,5.4 .5,10 .5,3.9 .5-4.4 .5,10.9 .5-1.4 .5,.4 .5,5.6 .5,4.3 .5,.3 .5,2.9 .5,1.2 .5,1.6 .5,6.1 .5-.6 .5,8.6 .5-2.2 .5,7 .5-8 .5,8.1 .5-6.9 .5-.8 .5,2.4 .5,.6 .5-3.9 .5-2.3 .5,5.1 .5-5.7 .5-6.4 .5,1.1 .5,3.6 .5-6.2 .5-1.3 .5,.4 .5-10.6 .5-.7 .5-6.3 .5-1.6 .5-1.9 .5-8.4 .5,1.1 .5-3 .5-.3 .5-7.5 .5-4.8 .5,1.6 .5-7.5 .5,.1 .5-2.7 .5-8.3 .5-2.7 .5-8.1 .5-11.3 .5-2.8 .5-8.9 .5-1.4 .5-10.4 .5-4.8 .5-7.4 .5-5.1 .5-12.5 .5-9 .5-6.4 .5-5.8 .5-13.5 .5-7.2 .5-9.5 .5-8.9 .5-9.4 .5-2.7 .5-7.1 .5-6.4 .5-.1 .5-13 .5-4.7 .5-8.5 .5-2 .5-10.5 .5-.3 .5-12.5 .5-3.9 .5-6.6 .5-11.3 .5-5.8 .5-11.7 .5-12 .5-9.1 .5-5.8 .5-3.7 .5-13.8 .5-4.2 .5-10.7 .5-3.9 .5-11.3 .5-5.5 .5-5 .5-9.4 .5-5.9 .5-3.7 .5-10.3 .5-8.7 .5-8.3 .5-4.7 .5-1.9 .5-9.9 .5-6.6 .5-3.8 .5-5.8 .5-5.5 .5-9.8 .5-7.6 .5-8.3 .5-3.4 .5-5.4 .5-3 .5-7 .5-8.2 .5-1.3 .5-11 .5-3.9 .5-4.3 .5-3.2 .5-.7 .5-4.7 .5-2.8 .5,3 .5-10.7 .5-1.6 .5-.4 .5-.6 .5-2.2 .5-4.2 .5-2.2 .5-1.4 .5,1.4 .5-5.9 .5-4.8 .5,6.6 .5-4 .5,3.3 .5,4.6 .5-2.8 .5,6.1 .5-8.2 .5,6.9 .5,2.4 .5,3.3 .5-2 .5,5 .5,2.6 .5,2.6 .5-1.2 .5,1.9 .5,9.3 .5,2.5 .5,2.1 .5,4.9 .5,4.9 .5-2.3 .5,9.9 .5,6.7 .5,3.7 .5,4 .5,5.8 .5-.4 .5,8.4 .5,10 .5,7.2 .5,3 .5,3.4 .5,7.1 .5,9.3 .5,10.1 .5,3.6 .5,3.6 .5,10.4 .5,6.7 .5,12.8 .5,2 .5,5.3 .5,6.4 .5,3.2 .5,7 .5,8 .5,5.6 .5,9.6 .5,6.8 .5,9.7 .5,9.5 .5,4.4 .5,7.4 .5,4 .5,14.9 .5,9.3 .5,4.5 .5,9.4 .5,7.4 .5,13.3 .5,7.1 .5,10 .5,1.6 .5,19.1 .5-1.5 .5,7.9 .5,11.7 .5,6.2 .5,15 .5,2.1 .5,7.6 .5,12.9 .5,9.1 .5,2.7 .5,9.4 .5,8.8 .5,8.9 .5,13.5 .5,6.9 .5,7.5 .5,8.7 .5,4.6 .5,10.4 .5,5.2 .5,5.5 .5,13.8 .5-3.2 .5,10.9 .5,3.9 .5,2.2 .5,8.6 .5,6.1 .5,5.7 .5,1 .5,8.9 .5,3.2 .5,5.7 .5-3.4 .5,8.1 .5,3.4 .5,6.9 .5-.4 .5,3.7 .5,1.1 .5,2.5 .5,3.3 .5,7.8 .5-3.3 .5-1.5 .5,9.9 .5,.1 .5,5 .5,2.4 .5,.2 .5,2.3 .5,2.2 .5,3.7 .5-.6 .5,3.7 .5,3.3 .5-6.3 .5-1.1 .5-1.6 .5,1.5 .5-2.2 .5-.4 .5-4.7 .5-4.4 .5-1.9 .5-7.7 .5,2 .5-4.6 .5,1.4 .5-6.2 .5-10.6 .5-3.8 .5-.7 .5-13.2 .5-2.2 .5-2.3 .5-5.2 .5-7.4 .5-3.1 .5-9.6 .5-4.1 .5-5.3 .5-6.5 .5-.4 .5-5.4 .5-2.3 .5-12.1 .5,2 .5-9.5 .5-10.1 .5-9.2 .5-12.6 .5-6.3 .5-8.3 .5-9.9 .5-8.5 .5-10.3 .5-9.4 .5-12.1 .5-5.9 .5-4.1 .5-9.6 .5-11.9 .5-6.6 .5-5.7 .5-11.6 .5-3.3 .5-15 .5-4 .5-8.6 .5-9.8 .5-8 .5-7.7 .5-16.1 .5-.7 .5-6.5 .5-10.4 .5-6.2 .5-14.8 .5-5.2 .5-7.2 .5-10.1 .5-4.3 .5-10.3 .5-11.2 .5-4.7 .5-8.4 .5-12 .5-5.4 .5-9.4 .5-9 .5-13.6 .5-1.8 .5-10.3 .5-10 .5-6.2 .5-6.9 .5-8.5 .5-7.4 .5-4.5 .5-8.3 .5-5.8 .5-7.9 .5-3.3 .5-2 .5-7.5 .5-5.5 .5-5.8 .5-4.8 .5-7.2 .5,5 .5-10.1 .5-5.5 .5,1.9 .5-3.7 .5-5.5 .5-5.9 .5-2.9 .5,5.2 .5-7.6 .5-4.2 .5,4.6 .5-9 .5-3.1 .5,2.4 .5-1.8 .5,2.3 .5-9.3 .5,4.9 .5-5.3 .5,6.6 .5-2.1 .5,2 .5,.9 .5,6.4 .5,4.5 .5-2.3 .5,2.2 .5,2.2 .5,5.9 .5-1.2 .5,16.1 .5-7.3 .5,8.8 .5-1.1 .5-.9 .5,2.8 .5,6.9 .5,3.2 .5,5.6 .5,1.9 .5,14.6 .5,4.4 .5-5.8 .5,11.9 .5,7.7 .5,1.6 .5,6.3 .5,10 .5,4.9 .5,1.7 .5,13.6 .5,2.2 .5,14.7 .5,1.2 .5,5.9 .5,16.7 .5,13 .5,7.5 .5,7.7 .5,4.7 .5,12.2 .5-1.2 .5,13.7 .5,.6 .5,8.1 .5,4.6 .5,8.2 .5,14.4 .5,.5 .5,12.2 .5,5.7 .5,13.8 .5,1.9 .5,12.4 .5,10.9 .5,12.1 .5-1.4 .5,9.2 .5,10.7 .5,12.6 .5,1.3 .5,13.5 .5,4.3 .5,7.2 .5,6.7 .5,13.2 .5,10.8 .5,5.2 .5,2.6 .5,12.8 .5,12.5 .5,7.9 .5,6.5 .5,11.7 .5,.5 .5,8.6 .5,19 .5,4.2 .5,7 .5,8.9 .5,3.7 .5,19.2 .5,.9 .5,8.7 .5,13.5 .5,12.4 .5,2.3 .5,9.5 .5,4.6 .5,8.8 .5-.3 .5,15.9 .5-4 .5,8.8 .5-3.2 .5,14.9 .5-.1 .5,8.1 .5-4.2 .5,8.2 .5-.2 .5,3.4 .5,6.9 .5-3.4 .5,7.4 .5,6.1 .5,2 .5,.4 .5,.2 .5-1.5 .5,9.2 .5-3.7 .5,7.7 .5-2.2 .5,2.9 .5,1.4 .5,2.7 .5-2.6 .5,1.3 .5-3.2 .5,1.1 .5-3.2 .5-2.5 .5-6.8 .5-.1 .5-4.3 .5-1.9 .5-5.3 .5-7.3 .5-.2 .5-9.3 .5-2.8 .5-12.2 .5,1.9 .5-4.5 .5-9.3 .5-.4 .5-7.4 .5,.3 .5-7.1 .5-10.8 .5-2.8 .5-10.8 .5-2.8 .5-5 .5-7.2 .5-11.4 .5-10.5 .5-10.4 .5-14.4 .5-9.6 .5-9.1 .5-13.3 .5-8.6 .5-15 .5-9.3 .5-7.5 .5-4.8 .5-12.2 .5-7.1 .5-13.5 .5-5 .5-16.6 .5-1.8 .5-15.5 .5,1.3 .5-10.4 .5-6.3 .5-10.5 .5-10.9 .5-9.1 .5-5.6 .5-4.6 .5-10.9 .5-11.6 .5-8.4 .5-8.6 .5-6.9 .5-7.9 .5-9.5 .5-7 .5-13 .5,.4 .5-12.3 .5-5.1 .5-12.2 .5-10.3 .5-8.2 .5-9.2 .5-12.7 .5-9.4 .5-3.6 .5-12 .5-12.3 .5-4.5 .5-11 .5-.7 .5-13.6 .5-1.3 .5-8.9 .5-6.2 .5-8.4 .5-4.2 .5-7 .5-5.6 .5-1.4 .5,.9 .5-12.7 .5-.6 .5-7 .5-5.9 .5,2.1 .5-5.9 .5-2.4 .5-6.8 .5-3.7 .5-6.5 .5-2.1 .5,2 .5-14.5 .5,4.4 .5,.2 .5-4.5 .5-2.1 .5-5.1 .5,2.3 .5-1.1 .5-4.1 .5,4.6 .5-5.8 .5-4.9 .5,8.1 .5,1.3 .5-.1 .5,3.5 .5,2.4 .5-.8 .5,11.8 .5-.1 .5,11.1 .5-4 .5,4.9 .5-1.6 .5,11 .5-2.1 .5,8.4 .5,4.8 .5,3.3 .5-.5 .5,4.2 .5,8.7 .5,5.7 .5,5.5 .5,.7 .5,4.9 .5,10.7 .5-1.3 .5,9.6 .5,2.8 .5,3 .5,7.2 .5,10.9 .5,6 .5,7.7 .5,4.8 .5,7.5 .5,11.2 .5,8.6 .5,6.3 .5,13.7 .5,16.2 .5,2.8 .5,13 .5,7.4 .5,11.4 .5,4.5 .5,7.8 .5,13.7 .5,5.5 .5,10.5 .5,7.8 .5,11.9 .5,6.3 .5,8 .5,5.1 .5,6.5 .5,10.4 .5,13 .5,7.9 .5,8.1 .5,5.5 .5,6.6 .5,14.4 .5,5.7 .5,9.3 .5,4.2 .5,9 .5,12.1 .5,8.6 .5,3.4 .5,12 .5,4.2 .5,14.9 .5,6.5 .5,12.6 .5,5.9 .5,2.1 .5,10.9 .5,7 .5,11.1 .5,11.9 .5,8.3 .5,11 .5,6.9 .5,15.8 .5,8.9 .5,12.6 .5,11.7 .5,6.9 .5,10.3 .5,3.7 .5,11.3 .5,4 .5,4.6 .5,6.9 .5,2.2 .5,7.3 .5,5.4 .5,5.6 .5,3.7 .5,2.2 .5,4.8 .5-2.2 .5,9.4 .5,4.2 .5,3.5 .5,3.4 .5-1.1 .5,2.7 .5,1.2 .5,2.4 .5,4.2 .5,5.7 .5-6.3 .5,5 .5,3.3 .5-3.2 .5,3.6 .5-6.1 .5,1.2 .5-5.8 .5,2.8 .5-5.8 .5,.8 .5-5.9 .5-5.2 .5-1.7 .5-2.1 .5-4.4 .5-5.3 .5-5.2 .5-4.3 .5-3.1 .5-9.5 .5-2.8 .5-10.5 .5,.9 .5-6.9 .5-7.3 .5-5.3 .5-9.3 .5-.6 .5-6.7 .5-9.2 .5-3.5 .5-3.6 .5-7.7 .5-6.5 .5-9.3 .5-3.5 .5-10.1 .5-5.7 .5-5 .5-21.1 .5-5.9 .5-8.9 .5-12.6 .5-5.6 .5-14.2 .5-4.4 .5-12.6 .5-10.9 .5-11.2 .5-7.6 .5-11 .5-7.3 .5-12.9 .5-8.3 .5-11.7 .5-10.2 .5-15.2 .5-5.7 .5-8.9 .5-14.3 .5-10.6 .5-7 .5-8.4 .5-15.5 .5-4.4 .5-8.2 .5-13.4 .5-8.6 .5-9.4 .5-13 .5-6.4 .5-10.5 .5-14.7 .5-5.3 .5-9.6 .5-16.5 .5-5.8 .5-14 .5-13 .5-7.9 .5-7.4 .5-3.7 .5-10.2 .5-6.9 .5-9.4 .5-3.2 .5-10 .5-4.7 .5-2.5 .5-5.7 .5-9 .5-4.1 .5-3.5 .5-6.5 .5-1.4 .5-4.2 .5-8.3 .5-7.3 .5-1.1 .5,.1 .5-4.8 .5-4 .5-4.4 .5-8.6 .5-1.8 .5-1.7 .5-6 .5-1.9 .5-8.6 .5-3.8 .5,6.1 .5-6 .5-2.8 .5,.5 .5,.5 .5,.7 .5-15.4 .5,7.5 .5,2.1 .5-7.5 .5,1.5 .5,6 .5,7.7 .5-.3 .5,6 .5-2.3 .5,5.3 .5,4.7 .5,.6 .5,2.4 .5,4.3 .5-6.7 .5,15.4 .5-2 .5,7.1 .5,8.4 .5,3.3 .5-2.7 .5,11.2 .5,5.1 .5,3.1 .5,6.3 .5,4.8 .5-.9 .5,9.7 .5,5.6 .5,3.4 .5,9.5 .5,4.2 .5,8.6 .5,4.5 .5,12.2 .5,10.3 .5-.7 .5,8.9 .5,7.4 .5,8.9 .5,6.6 .5,3.2 .5,16.5 .5,8.1 .5,7 .5,12 .5,8.6 .5,11.5 .5,7.9 .5,9.7 .5,10.8 .5,10.1 .5,9.1 .5,13 .5,7.3 .5,7.2 .5,17 .5,5.5 .5,14.2 .5,2.6 .5,14.6 .5,13.2 .5,8.7 .5,6.7 .5,8 .5,10 .5,11.2 .5,7.8 .5,10.8 .5,9.5 .5,10.1 .5,13.6 .5,4.7 .5,15.8 .5,12 .5,6.2 .5,11.3 .5,14.2 .5,11.7 .5,14.7 .5,3.4 .5,16.6 .5,14.7 .5,6.1 .5,14.1 .5,10.1 .5,1.2 .5,14.4 .5,6 .5,7.4 .5,8.2 .5,9.1 .5,6.6 .5,10.3 .5,10.8 .5,7.8 .5,1.8 .5,8.7 .5,5.8 .5-2.3 .5,14 .5-.3 .5,5.1 .5,10.2 .5,6.7 .5-3.9 .5,4.6 .5,3.9 .5,5.3 .5,4.4 .5,2.7 .5,1.4 .5,12.9 .5-3.4 .5,1.7 .5,6.6 .5-2.4 .5,4.5 .5-1.3 .5-.8 .5-5.9 .5,.3 .5-9.3 .5-3.1 .5,.2 .5-5 .5,.6 .5-8.6 .5-8.1 .5,.8 .5-5.7 .5-3.7 .5-9.2 .5-4.5 .5-3.5 .5-4.1 .5-7.1 .5-5.2 .5-12.4 .5-2.8 .5-5.2 .5-4.5 .5-8.7 .5-8.3 .5-6.9 .5-7.4 .5-11.5 .5-3.9 .5-6.2 .5-9.4 .5-16.8 .5-4.9 .5-14.6 .5-3.3 .5-12.1 .5-9.9 .5-14.3 .5-14.2 .5-8.3 .5-8.9 .5-14 .5-9.4 .5-2.8 .5-18.9 .5-5 .5-16.8 .5-4 .5-8.3 .5-11 .5-7.8 .5-8.3 .5-18.8 .5-5.3 .5-9.1 .5-10.1 .5-6.7 .5-13.8 .5-7.6 .5-10.6 .5-13.5 .5-9.8 .5-14.7 .5-8 .5-11.4 .5-11.6 .5-11.4 .5-6.7 .5-14.8 .5-6.8 .5-19.7 .5-19.9 .5-20.8 .5-8.7 .5-12 .5-9.5 .5-12.2 .5-3.7 .5-9 .5-9.6 .5-7.8 .5-5.8 .5-9.4 .5-4.1 .5-.5 .5-11.3 .5,2.9 .5-15.3 .5,1.9 .5-4.6 .5-4.3 .5-6 .5-10.2 .5,3.7 .5-4.2 .5-6.9 .5-10.8 .5,5.6 .5-9.6 .5-2.1 .5,.4 .5-3.6 .5-6.2 .5-6.1 .5,3 .5-4.6 .5-6.6 .5-4.9 .5,1.2 .5-6.7 .5,7 .5-4.9 .5-3.4 .5,1.5 .5-6.1 .5,4.7 .5-1 .5-1.6 .5,4 .5,4.5 .5-2.9 .5,5.8 .5-1 .5,7.5 .5-2.4 .5,10.2 .5,3.4 .5,4 .5,6.5 .5-.7 .5,3.8 .5,5.4 .5,1 .5,0 .5,6 .5,4 .5,8.1 .5,2.1 .5,5.5 .5,7.7 .5,4.2 .5,10.7 .5,.1 .5,3.6 .5,12.5 .5,1.9 .5,7.8 .5,10.1 .5,4.9 .5,9 .5,4 .5,8.8 .5,10.7 .5,5 .5,8.9 .5,9.7 .5,14.5 .5,10.4 .5,8 .5,11.5 .5,9.9 .5,17.6 .5,9.6 .5,13.9 .5,6.1 .5,18.9 .5,10.8 .5,14.3 .5,13.4 .5,9.7 .5,11.6 .5,15.5 .5,7 .5,19.6 .5,9 .5,7.7 .5,18.4 .5,10.7 .5,13.1 .5,10.1 .5,10.2 .5,10.1 .5,8.9 .5,16.9 .5,11.4 .5,8.9 .5,14.5 .5,7.4 .5,16.8 .5,8.7 .5,11.6 .5,8.5 .5,15.6 .5,8.2 .5,7.8 .5,11.9 .5,7.1 .5,11.9 .5,1 .5,9.1 .5,17.1 .5,1.3 .5,11.4 .5,6.1 .5,10.3 .5,15.3 .5-4.6 .5,15.1 .5,6.2 .5,7.1 .5,4.5 .5,6 .5,12.9 .5,4 .5,1.7 .5,10.1 .5,3.4 .5,19.2 .5,.7 .5,1.7 .5,15.6 .2,1.2" stroke="#EE501C" stroke-width="5.8" fill="none" stroke-linejoin="round" stroke-linecap="butt"/><path d="M189,1010.7l.5-12.8 .5,8.5 .5-2.7 .5,.5 .5,.8 .5-5 .5,5.2 .5-1.7 .5,11.9 .5-8.6 .5-1.5 .5,.4 .5-1 .5-.9 .5,2 .5,2.6 .5-1.9 .5,3.5 .5-3 .5,.7 .5,4.5 .5-2.7 .5-2.8 .5,1.1 .5,2.2 .5,4.1 .5-6 .5,.2 .5,3.7 .5-5.1 .5,1.9 .5,3.4 .5-.6 .5-1.2 .5,1.9 .5-9.6 .5,11 .5-5.4 .5-1.7 .5,5.7 .5,1.4 .5-2.9 .5-1.5 .5,3.4 .5,.2 .5,4.5 .5-1.4 .5-1.1 .5,3 .5-3.3 .5-1.7 .5,4.5 .5,.2 .5-2.2 .5-1.6 .5,2.6 .5-7.9 .5,8.6 .5-1 .5-6.5 .5,4.2 .5-3.5 .5,4.1 .5-8.5 .5,2.3 .5,3.8 .5,.4 .5-10.1 .5,3.8 .5,1.5 .5-3.5 .5,5.4 .5-8.7 .5,3.5 .5-4.8 .5,5.9 .5-4.9 .5-2 .5-4.8 .5,8.5 .5-3.8 .5-1.1 .5-.1 .5-3.4 .5-4 .5-1.7 .5-1.2 .5,4.7 .5-9.2 .5,1 .5-.6 .5,.2 .5-.5 .5-6.5 .5-2.9 .5,3.4 .5,1.9 .5-2.8 .5-3.1 .5-3.2 .5,0 .5-3.2 .5,1.2 .5-6.4 .5,.7 .5-2.6 .5-.2 .5-2.9 .5,4.4 .5-5.1 .5-2.2 .5-12.1 .5,2.5 .5-3 .5,.9 .5-10.3 .5,7.3 .5-2.8 .5-9.2 .5-1.8 .5-2.3 .5-.4 .5-1.3 .5,.9 .5-9.3 .5-.4 .5-4.9 .5,1.3 .5-6.1 .5-1.6 .5-10.1 .5-.8 .5-5.1 .5,3 .5-6 .5-6.3 .5-4.1 .5-1.2 .5-7.2 .5-4.5 .5,.1 .5,1.6 .5-11.5 .5-4.8 .5-5.6 .5-4.4 .5,1.4 .5-2.9 .5-6.1 .5-2.8 .5-4.2 .5-3.5 .5-8.1 .5-.5 .5-1.8 .5-6 .5-2.5 .5-4.3 .5-2 .5,0 .5-6.8 .5-2.6 .5-.5 .5-3.7 .5-.3 .5-13.7 .5,5.1 .5-6.9 .5-1.3 .5-1.1 .5-2.4 .5-3.1 .5-5.4 .5,1.2 .5-8.1 .5-2.4 .5-.1 .5-6.5 .5,5 .5-5.9 .5,.7 .5-8.8 .5-3.6 .5-1.1 .5-1.1 .5-6.4 .5,0 .5-3.9 .5,1.8 .5-9.2 .5,1.8 .5-7.7 .5-4 .5-2.4 .5-4.6 .5,.5 .5-.8 .5-5.8 .5-2.1 .5-.6 .5-7.3 .5-3.6 .5-4.8 .5-7.2 .5,3.1 .5-10.7 .5,3 .5-5.6 .5-.6 .5-7.2 .5-5.8 .5-.4 .5-6.2 .5-2.3 .5-2.6 .5-3.6 .5-3 .5-4.5 .5-.9 .5-8 .5,3.1 .5-5.4 .5,4.2 .5-1.9 .5-11.4 .5,3.6 .5-3.1 .5-4.9 .5,2.1 .5-5.2 .5-6.1 .5,1.7 .5-2.2 .5-1.8 .5-6.2 .5,2.7 .5-2.1 .5-7.6 .5-1 .5-.5 .5-3.5 .5,4.5 .5-6.1 .5-5.1 .5-.9 .5,.5 .5,5.2 .5-8.3 .5-.4 .5-.2 .5-2.8 .5,5.3 .5-9 .5,2.4 .5-2.8 .5,.1 .5-6.2 .5,7.1 .5-6.6 .5-.8 .5-4 .5-.8 .5,2.3 .5-.1 .5-1.9 .5,.1 .5-2.6 .5-2.9 .5,1.3 .5-1.5 .5-2.7 .5,1.8 .5,.9 .5-3.5 .5-2.2 .5,2.5 .5,2.8 .5-6.5 .5-.1 .5-.6 .5,3.4 .5-8.9 .5,5.8 .5,2 .5-5.8 .5,6.2 .5-2.8 .5-3.1 .5,2.1 .5-4.8 .5,3.1 .5,7.2 .5-7 .5,8.5 .5-4.5 .5,4.1 .5-1.5 .5-5.2 .5,5.9 .5,3.4 .5-2.4 .5,.8 .5,6.1 .5-1.5 .5-1.7 .5,4.1 .5,5.4 .5-2.7 .5,4.9 .5,2.6 .5-3.4 .5-2.4 .5,.3 .5,4.4 .5,3.3 .5-.9 .5,1.6 .5-2.1 .5,2.9 .5-1.4 .5,1.2 .5-1.9 .5,0 .5,3.8 .5-.9 .5,1.2 .5,5.4 .5-1.4 .5,9.2 .5-4.9 .5-3.6 .5,4.6 .5-.5 .5-2.2 .5,5.8 .5-4.5 .5-5.6 .5,11.6 .5-3 .5,6.9 .5-5 .5-.3 .5,8.9 .5-6 .5,5.2 .5,5.7 .5-1.2 .5,2.5 .5,3.7 .5,5.5 .5-1.2 .5,7.4 .5,3.2 .5,8 .5-4.5 .5,1.4 .5,7.7 .5-.1 .5,4.9 .5,2.5 .5,5.8 .5-2.3 .5,4.3 .5-4.4 .5,7 .5,8.9 .5-4.2 .5,1.9 .5,.4 .5,6.8 .5,.6 .5-2 .5,7.1 .5,.8 .5,3.4 .5-1.7 .5,9.1 .5-1.2 .5,1.4 .5,1.8 .5,3.9 .5,6.4 .5,.2 .5,7.3 .5,2.1 .5,5.7 .5,2.2 .5,1.1 .5-1.6 .5,9.8 .5,4.8 .5,1.7 .5,4.4 .5,.4 .5,3.6 .5,1.7 .5,9.7 .5-.1 .5,1.5 .5,.9 .5,6.6 .5,7.8 .5,.6 .5,.1 .5,9.4 .5,3.4 .5,2.2 .5,3 .5,4.7 .5,2 .5,4.3 .5-.5 .5,10.1 .5,.3 .5,8.8 .5-7.6 .5,11.5 .5,4.4 .5,0 .5,5.7 .5,4.3 .5,2.9 .5,.2 .5,4.3 .5,6.3 .5,3.8 .5-.3 .5,3 .5,3.3 .5,5.2 .5-2.9 .5,2.1 .5,7 .5-.6 .5,4.4 .5,4.9 .5,4.1 .5-1.4 .5,8.3 .5-4.1 .5,9.5 .5-2.8 .5,3.9 .5,8.5 .5,.1 .5,1.9 .5,4 .5,5.6 .5,1.4 .5,3 .5,5.9 .5-2.2 .5,3.3 .5,2.5 .5,7.1 .5,1.9 .5,3.1 .5-1.5 .5,1.8 .5,5 .5-1.3 .5,5.6 .5,1.9 .5-1.7 .5,4.1 .5,2.3 .5,7.8 .5,5 .5-4.7 .5,3.3 .5-3.2 .5,10.3 .5,3.3 .5,1.8 .5,10.5 .5-.8 .5,9.6 .5,6.9 .5,1.7 .5,10.9 .5,5 .5-3.4 .5,2.8 .5,8.2 .5,.7 .5-1 .5,4.7 .5,2.5 .5,1.8 .5,4.5 .5,.5 .5,5.6 .5,.6 .5-.3 .5,2.8 .5,2.4 .5,.1 .5-3.6 .5,7.6 .5-.4 .5,6.2 .5-2.5 .5,2.9 .5,1.2 .5,5.5 .5-2.6 .5,.4 .5,3.2 .5-.5 .5,3.2 .5,1 .5,2.2 .5,6 .5-5.1 .5,2.7 .5,.8 .5,3.9 .5-3.8 .5,2.8 .5,3.1 .5,2.9 .5-.5 .5-.2 .5-.1 .5,4.6 .5,3.2 .5-2.7 .5,0 .5,1 .5-3.6 .5,2 .5,.4 .5,1.8 .5-.7 .5-3.1 .5,6.7 .5,1.7 .5-5.4 .5,1.9 .5-.4 .5,1.4 .5-6.5 .5,8.5 .5-6.2 .5,4.6 .5-3.7 .5-1.8 .5,.2 .5,2.4 .5-5.4 .5,.8 .5-.9 .5-4 .5,7.8 .5-2.6 .5-2.3 .5,2.8 .5-6.6 .5,1.9 .5,4.4 .5-2.7 .5-9.7 .5-3.8 .5,5.7 .5,5.1 .5-5.1 .5-.2 .5,1.5 .5-5.2 .5,2.1 .5,.6 .5-2 .5-1.4 .5-4 .5,1.9 .5-4.3 .5,3 .5,1.5 .5-11.6 .5-6.4 .5,2.4 .5-.3 .5-.6 .5-2.4 .5-7.6 .5-2.2 .5,3.7 .5-8.4 .5,4.2 .5-5.4 .5,1 .5-1.9 .5-1.5 .5-1.5 .5-6.7 .5,2 .5-2.4 .5-.8 .5,1.1 .5-5.8 .5-2.8 .5-1.6 .5-.4 .5,1.5 .5-5.9 .5,4.1 .5-3.8 .5-2.9 .5-4.5 .5,2.9 .5-.2 .5-8.4 .5,6.6 .5-.4 .5-5.4 .5-1.3 .5,3.6 .5-5.2 .5-7.8 .5,.5 .5-2.4 .5-2 .5-8.4 .5,6.5 .5-6.3 .5-.3 .5-3.5 .5-.1 .5-6.5 .5-4.9 .5-.1 .5-1.6 .5-9 .5,.4 .5-7.5 .5-6.7 .5,1.3 .5-11 .5,.9 .5-8.4 .5-1.4 .5-8.5 .5-2.4 .5,1.8 .5-5.9 .5-3.8 .5-4.6 .5-.8 .5-8.4 .5-2.4 .5-.5 .5-5.2 .5-2.8 .5-1.5 .5-3.5 .5-3.7 .5,1.9 .5-5.4 .5-2.9 .5-7.1 .5-5 .5-6.3 .5-.6 .5-8.6 .5,.5 .5,.1 .5-1.3 .5-5.6 .5-8.8 .5,.1 .5-7.3 .5,.8 .5-6.3 .5-.9 .5,1.1 .5-8.3 .5,.3 .5-9.7 .5-5.1 .5,1 .5-2.6 .5-10 .5-1.9 .5-7.9 .5-.2 .5-.6 .5-6.4 .5-5 .5-6 .5,1.3 .5-2.4 .5-4.2 .5-4.5 .5-7.9 .5,4.8 .5-8.7 .5-3.9 .5-1.2 .5-11.8 .5,2.1 .5-4 .5-2.4 .5-1.1 .5-6.3 .5-10.4 .5,.3 .5-2.5 .5-4.2 .5-8 .5-5.2 .5,2.1 .5-4.7 .5-5.4 .5-9.3 .5,5.1 .5-17.8 .5,2.5 .5,2.5 .5-10.4 .5-2.6 .5-7.2 .5,3.9 .5-10.6 .5,1.4 .5-3.2 .5-6 .5,2.8 .5-9 .5-.3 .5-.5 .5-3.2 .5,.4 .5-.7 .5-5.3 .5-2.5 .5-1.6 .5-1.2 .5,1.7 .5-4.4 .5,.2 .5-2.9 .5-3.5 .5,3.3 .5-6.8 .5,1.5 .5,2.7 .5-8.7 .5,1.3 .5-5.8 .5,1.3 .5-4.4 .5,1.4 .5-2.4 .5-.1 .5,1.9 .5-5.8 .5-1.2 .5-4.2 .5-2.8 .5-4 .5-5 .5,3 .5,2.1 .5-5.4 .5-4.9 .5,4 .5-7.7 .5-2.3 .5-3.4 .5-.8 .5,.7 .5,5.1 .5-7.3 .5-3.4 .5,0 .5,0 .5-5.2 .5,4 .5,.6 .5-2.1 .5-.2 .5-6.3 .5-2 .5,7.4 .5-1.4 .5-8.1 .5,4.1 .5-1.2 .5,.8 .5-1.5 .5-2.5 .5,1.5 .5-.4 .5-.9 .5-5.2 .5-3.4 .5,6.2 .5-2.3 .5,5.6 .5,1.7 .5-.7 .5-1 .5,2 .5,4 .5-4.4 .5,5.7 .5,.6 .5-.1 .5,4.5 .5-4.8 .5,5.9 .5-4 .5,1.7 .5,.4 .5,5.4 .5-2.8 .5,3.8 .5-2.3 .5,7.2 .5,3.2 .5-3.5 .5,4.9 .5-2 .5,5.5 .5-4.7 .5-3.7 .5,9.7 .5-3.5 .5-1.4 .5,2.2 .5-1.6 .5,5.3 .5-1.3 .5,8.5 .5-1 .5-5.1 .5,1.9 .5,4.1 .5-2.1 .5,6.8 .5,1.9 .5-.1 .5,2.6 .5,4.9 .5,4.7 .5,2.3 .5-1.9 .5,4.6 .5-2.2 .5,5.5 .5-1.5 .5,7.1 .5-3.1 .5,3.1 .5,5.1 .5,3.9 .5-3.2 .5,4.9 .5,4.3 .5,2.8 .5-.5 .5,5.2 .5,1.6 .5,7.4 .5,.3 .5-2.6 .5,.3 .5,9.1 .5,5.8 .5-.1 .5,4.7 .5-1.2 .5,.2 .5,8.5 .5,.8 .5,4.3 .5-3 .5,7.2 .5,.6 .5,7 .5-.8 .5,3.2 .5,3.5 .5,8.9 .5,.5 .5,2.1 .5,3.6 .5,4.5 .5,11.7 .5-4.5 .5,7.4 .5,8.8 .5,6 .5,.7 .5,6.8 .5,3.9 .5,4.4 .5,.8 .5,7.8 .5-.9 .5,6.9 .5-4.4 .5,8.6 .5-3.3 .5,2.2 .5,8.4 .5-.9 .5,6.4 .5-1.4 .5,10.5 .5-1.5 .5-.1 .5,6.9 .5,5.1 .5-1.4 .5,6.7 .5,7.5 .5,0 .5,.7 .5,1.8 .5,6.5 .5-2.5 .5-.8 .5,10.1 .5,2.4 .5,11.5 .5-.9 .5,.7 .5,3.3 .5,8.7 .5,.3 .5,4.8 .5,5.6 .5,4.8 .5,4.3 .5,4.3 .5,7.7 .5,5.4 .5-5.1 .5,16.2 .5-2.6 .5,7.3 .5-1.4 .5,7.1 .5,3.9 .5,3.9 .5,6.2 .5,3.6 .5-.5 .5,6.7 .5,6.5 .5,4.1 .5,1.3 .5,4.3 .5,4.5 .5,1.5 .5,3.7 .5,12.2 .5-1.4 .5,5.5 .5,1.8 .5,9.8 .5,5.4 .5-1.3 .5,6.2 .5,.6 .5,11.4 .5,1.9 .5-.6 .5,10.4 .5,2.4 .5,5.4 .5,5.1 .5,2.2 .5,5.1 .5,7.4 .5,1.5 .5,.1 .5,10.8 .5-4.1 .5,1 .5,1.4 .5,5.6 .5,2.6 .5-.3 .5,3.5 .5-4.7 .5,5.1 .5,1.7 .5,3.3 .5,3.2 .5-5.1 .5,16.3 .5-9.2 .5,5.3 .5,3.3 .5,2.1 .5,.3 .5-6.8 .5,7.2 .5,7.3 .5-2.4 .5,2 .5-1.1 .5,12.8 .5,.9 .5-1 .5,5 .5,3 .5,0 .5,5 .5,4 .5,3.1 .5,4 .5-1.8 .5,.1 .5,3.9 .5-1.5 .5-.5 .5,8 .5-3.2 .5,2.6 .5,2.5 .5-3.9 .5,5.9 .5,.5 .5-.6 .5,2.4 .5-2.2 .5-3 .5,6.5 .5-.8 .5,6 .5-.7 .5-1.4 .5,2.3 .5,4.3 .5-.2 .5-1.9 .5,.1 .5-2.1 .5,.1 .5,1.6 .5-2.4 .5,.6 .5-4.5 .5-2 .5-.6 .5,3.1 .5,4.6 .5-.7 .5-6.1 .5-1.6 .5,6.7 .5-.8 .5-4.9 .5,7 .5-2.2 .5,3.4 .5-2.5 .5,1.8 .5-1.5 .5-3.4 .5,2.1 .5-1.3 .5,3.5 .5-6.3 .5-3.2 .5,4.1 .5-1 .5-1.7 .5-3.6 .5-9.8 .5-.2 .5-1.9 .5-.5 .5-7.7 .5,4.3 .5-.7 .5-4.9 .5,1.5 .5,1.6 .5-4.6 .5,1.4 .5-1.7 .5-3.2 .5-1.8 .5-3.9 .5,2.6 .5-6.9 .5-2.9 .5,1.2 .5-7.3 .5-.5 .5-2.4 .5-7 .5-4.3 .5-2.1 .5-4.6 .5-10.4 .5-2.8 .5,4.1 .5-5.9 .5-10.2 .5-1.1 .5,.7 .5-5.8 .5,1.2 .5-3.9 .5-1.4 .5-7.1 .5,2.8 .5,1.7 .5-9.4 .5,4.5 .5-2.2 .5-2.1 .5-3.1 .5-4.3 .5-.6 .5,2.9 .5-1.4 .5-2.3 .5-5.1 .5-5.4 .5-9.7 .5-8.4 .5-2.4 .5-5.2 .5-6.5 .5-9 .5-1 .5-6.2 .5,1.2 .5-6.5 .5-.5 .5-1.5 .5-3.3 .5,.7 .5-9.6 .5-5.7 .5,6 .5-1.5 .5-2.7 .5-6.2 .5-2.4 .5-4.4 .5-7.2 .5-1.2 .5-.3 .5-6.3 .5,3.6 .5-13.1 .5-.3 .5,.8 .5-8.3 .5-5 .5-4.3 .5-1.9 .5,2.5 .5-6.9 .5-3.7 .5-6.9 .5-.2 .5-6.1 .5-7 .5-2.8 .5-2.3 .5-1.3 .5-7.5 .5-2.5 .5,.2 .5-11.8 .5-5.3 .5,2.2 .5-5.5 .5-5.5 .5-3 .5-5.6 .5-1.7 .5-6.3 .5-.9 .5-9.5 .5-3 .5-1.4 .5-5.7 .5-.7 .5-6.2 .5-5.4 .5-1.9 .5-6.1 .5-6.9 .5-2.8 .5-3 .5-3 .5-2.3 .5-1.5 .5-4.7 .5-.2 .5-5 .5-7.6 .5,1.5 .5-5 .5-8.4 .5-1.8 .5-2 .5-6.9 .5-2.6 .5-6.8 .5-4.3 .5-8.2 .5-3.3 .5-7.4 .5-2.2 .5-11.5 .5,1.1 .5-1.9 .5-6.1 .5-5.9 .5-2.5 .5-7.9 .5-3.9 .5-2.6 .5-3.2 .5-.6 .5-8.9 .5,1.7 .5-10.9 .5-1.5 .5-1.6 .5-.3 .5-8.6 .5-7.8 .5,3.7 .5-4.7 .5-6.2 .5-3.1 .5-2 .5-.7 .5-1.1 .5-8.5 .5,8.1 .5-8.8 .5-3.2 .5,.8 .5-3.7 .5,4.2 .5-5.4 .5-6.1 .5-1.9 .5-2.1 .5-1.4 .5,1.1 .5-5.4 .5,4.6 .5-6.4 .5-1.8 .5,1.5 .5-9.8 .5,1.3 .5,2.7 .5-3.2 .5-1.6 .5-.4 .5-4.3 .5-.3 .5-4.8 .5-2.9 .5,7.4 .5-7.5 .5-.8 .5,4.6 .5-2.3 .5-5.8 .5-1.3 .5,0 .5-3.7 .5,2.9 .5-2.3 .5-1.3 .5,.5 .5-1.4 .5,1.8 .5-2.4 .5-10.5 .5,5.9 .5-6.9 .5-2 .5,5.2 .5-4.6 .5,.9 .5,3.9 .5-4.8 .5-.7 .5,3.4 .5,2.5 .5-1.9 .5-5.8 .5,2.5 .5,1.4 .5,5.8 .5-2.9 .5-.1 .5,1 .5-4.3 .5,2.3 .5,0 .5-4.1 .5,2.7 .5,2.3 .5-3.4 .5,7 .5,2 .5,3.2 .5-2.5 .5,5.2 .5,6.6 .5,.8 .5-1.8 .5,5.2 .5,5.4 .5-2.4 .5,3 .5,7.9 .5-5.7 .5,1.4 .5-.9 .5,2.5 .5,7.6 .5-3 .5-1.3 .5,2.3 .5,4.3 .5,3.8 .5-2.4 .5,5.9 .5-1.5 .5,4.4 .5,2.4 .5,2.3 .5-.8 .5,2.9 .5,4 .5-2.8 .5,6.3 .5,3.2 .5,3.7 .5-.7 .5,1.9 .5,3.2 .5-.1 .5,3.8 .5,4.1 .5,2 .5-1.3 .5,4.4 .5-2.5 .5,10.6 .5-1.2 .5,4.7 .5-1.2 .5,5.4 .5,4 .5,4.2 .5-4 .5,8.8 .5-.2 .5,.8 .5,5.9 .5,.2 .5,2.3 .5,1.3 .5,5 .5,2 .5,2.1 .5,.6 .5,4.2 .5,5.8 .5,5.9 .5,.1 .5,8.1 .5,1.2 .5,3.9 .5,12.6 .5,3.9 .5,12 .5,9.3 .5,2.4 .5,5.1 .5,11.1 .5-2.7 .5,3.2 .5,4.4 .5,.3 .5,2.7 .5,3.8 .5-5.2 .5,13.3 .5-4.3 .5,2.9 .5,7.7 .5,1.8 .5-.2 .5,7.5 .5-.4 .5,4.8 .5,1.3 .5,5.5 .5,7.1 .5,2.9 .5,4.3 .5,5.6 .5,1.2 .5,2.2 .5,5.2 .5,9.6 .5-.1 .5,5.2 .5,3.4 .5,5.5 .5,5.1 .5,3.3 .5,4.1 .5,2.7 .5,4.2 .5,7.8 .5,5.1 .5,4.6 .5,1.6 .5,1.6 .5,8.1 .5,3.9 .5-2 .5,10.4 .5,3.3 .5,7 .5-3.9 .5,3.6 .5,9.7 .5-3.2 .5,6.8 .5,2.9 .5,4 .5,1.4 .5,8.5 .5,7.3 .5,2.5 .5,4.1 .5,1.9 .5,9.3 .5,1.8 .5,6.1 .5-2.6 .5,10.2 .5,.8 .5,9.2 .5,4.7 .5,1.5 .5,8.8 .5,8 .5,3.3 .5,5.5 .5,1.4 .5,6.2 .5,4.4 .5,9.1 .5,8.5 .5,3.2 .5,3.9 .5,1.5 .5,8.6 .5,2 .5-1 .5,3.9 .5,7.2 .5,1.6 .5,10.2 .5-1.6 .5-.1 .5,4.5 .5,8.6 .5-4.1 .5,7.6 .5,1.8 .5,5.6 .5,0 .5-.1 .5,5.1 .5,1.3 .5,5.2 .5-.3 .5,8.5 .5-2.9 .5,4.5 .5,.3 .5,5.9 .5,3.5 .5,4.3 .5,5.8 .5-.5 .5,2.2 .5,8.1 .5-1.3 .5,1.3 .5,7.4 .5,1.2 .5-7.4 .5,8.4 .5,5.2 .5,2.2 .5-1.8 .5,7.8 .5-4.5 .5,3.7 .5,3.1 .5,1.7 .5,4.4 .5,2.7 .5-.9 .5,6.1 .5-3.8 .5,3.3 .5,7.3 .5-2.6 .5,4.5 .5-2.4 .5,2.2 .5,2.4 .5,2.7 .5,.6 .5,3 .5,3.8 .5,3.4 .5-1.2 .5,3.2 .5,2.2 .5-4.2 .5-.3 .5,9.7 .5-.3 .5-3.3 .5,.6 .5-4.2 .5-2.1 .5,3.6 .5-6.3 .5,5.3 .5-5.8 .5,1.4 .5,3.4 .5-1.2 .5-6.7 .5,3.3 .5-5.9 .5,1.5 .5,3 .5,3.4 .5-4.9 .5,3.7 .5-.7 .5-3.3 .5,3.6 .5,4.7 .5-4.4 .5,1.2 .5,.2 .5-5.4 .5,4.2 .5-.7 .5-1.4 .5-2.5 .5-6.8 .5-2.3 .5-2.4 .5-2.1 .5-1.5 .5,3.4 .5-.4 .5-7.7 .5,2.2 .5-7.7 .5,.7 .5-3.9 .5-3.8 .5,2.6 .5-2.1 .5-3.7 .5-2.6 .5-3.7 .5-.2 .5-4.1 .5-.6 .5-7 .5,.8 .5-2.3 .5-1.2 .5-3.7 .5-5.6 .5-5.6 .5-6.2 .5,2.1 .5,1.2 .5-2.1 .5-14.4 .5,2.4 .5-1.5 .5-4.6 .5,.6 .5-3.4 .5-4.6 .5-2 .5-8 .5-2 .5-3.7 .5,1 .5-11.1 .5,0 .5-1.2 .5-6.1 .5-1.4 .5-7.9 .5-.7 .5-2.4 .5,0 .5-8 .5-1.8 .5-7.7 .5-3.6 .5,.3 .5-6.7 .5-1.6 .5-6 .5,0 .5-3.3 .5-13.1 .5,3.5 .5-8.1 .5-4.1 .5-5.9 .5-1.9 .5-9.5 .5-3.3 .5-4.6 .5-1.6 .5-3 .5-5.4 .5-6 .5-7.7 .5-8.4 .5,.9 .5-5.8 .5-4.5 .5-2.1 .5-9.5 .5-5.1 .5-10.9 .5,3 .5-6.7 .5-6.9 .5-1.8 .5-9 .5-3.6 .5,2 .5-8.4 .5-4.6 .5-5.7 .5-5.4 .5-6.5 .5,.7 .5-11.6 .5-2.7 .5-7.5 .5-5.1 .5-10.3 .5-2.9 .5,5.6 .5-4.3 .5-9.4 .5-2.8 .5-2.1 .5-8.4 .5,3.9 .5-11.7 .5-3 .5-9.6 .5,8 .5-8.1 .5,.3 .5-11.4 .5-.3 .5-4.8 .5-3.7 .5,1.2 .5-3.5 .5-6.4 .5-9 .5-.3 .5-2.6 .5-6 .5-3.6 .5-3.8 .5-7.3 .5-.4 .5,.2 .5-11 .5-1 .5-2.2 .5-10.8 .5-1.4 .5-9.4 .5-2.2 .5-7.5 .5-4 .5-4.2 .5-4.8 .5-5.1 .5-11.4 .5,6.1 .5-10.1 .5-7 .5-3.1 .5-1.5 .5-7.8 .5-2.3 .5-4.1 .5-1 .5-7.3 .5-.4 .5-3.9 .5-4.9 .5,.4 .5-6.9 .5-6.8 .5,.8 .5-3.8 .5-3.8 .5-2.5 .5,2.6 .5-9.2 .5-2.5 .5-5.2 .5,1.2 .5-6.9 .5-5.1 .5-4.2 .5,2 .5-2.3 .5-9.3 .5-.3 .5,1.2 .5-1.5 .5-9.1 .5,0 .5,1 .5-6.3 .5-2.2 .5-2.7 .5-4.5 .5,1.5 .5-1.4 .5-6.9 .5,2.2 .5,.9 .5-4.2 .5,.4 .5-5.6 .5,4 .5-7.4 .5,6.3 .5-7.8 .5-1.9 .5-1.5 .5,.3 .5-1.3 .5-1.5 .5,0 .5,1.9 .5-.3 .5-4.3 .5,3.6 .5-7.2 .5-.9 .5-1.1 .5,4 .5-6.9 .5-.4 .5,6.6 .5,.2 .5-2 .5-9 .5,3.2 .5,1.3 .5-3 .5-5.8 .5,2.7 .5-4.6 .5,.7 .5,8.9 .5-4.6 .5-6.2 .5-.2 .5,5.6 .5-2.7 .5,3.7 .5-2.8 .5,2 .5,2.1 .5-2.7 .5-1.5 .5,3 .5,2.4 .5,2.4 .5,1.4 .5,.9 .5,2.5 .5-3.1 .5,7.1 .5,2.3 .5-4 .5,.1 .5,3.5 .5-1.2 .5-.7 .5-.4 .5-1 .5-.6 .5,5.8 .5,2.2 .5-5.5 .5,3.7 .5,1.8 .5-.7 .5,.5 .5,2.8 .5-2.5 .5,7.4 .5,1.6 .5,9.2 .5-.7 .5-1 .5,3.7 .5,7.6 .5,2.5 .5-1.1 .5,1.9 .5-.9 .5,6 .5,3.3 .5,1.5 .5,10.1 .5-6.8 .5,8.2 .5,4.9 .5,3.6 .5,7 .5-5.2 .5,5.4 .5,5.9 .5,3.6 .5,2 .5,2.4 .5,8.5 .5-2.6 .5,4.7 .5,8.9 .5,4.1 .5,.9 .5-1.5 .5,3.4 .5,3.3 .5,2.8 .5,5.6 .5,8.4 .5,.8 .5,1.2 .5,4 .5,3.1 .5,11 .5-4.5 .5,11.1 .5,0 .5,6 .5,3.9 .5,11.9 .5,2.3 .5,13.2 .5-5.3 .5,5.2 .5,10.1 .5,5.3 .5,3 .5,.6 .5,15.2 .5,3.1 .5,5.2 .5,3 .5,9.3 .5,2.5 .5,7.6 .5,5.3 .5,10 .5,1.2 .5,6.5 .5,10.2 .5,3.8 .5,5.6 .5,5.7 .5,9.7 .5,1.9 .5,9.4 .5,10.6 .5,1.7 .5,2.9 .5,5.1 .5,10.1 .5,2.4 .5,5.2 .5,8.6 .5,5.3 .5,11.7 .5-.2 .5,14.7 .5-.3 .5,8.7 .5,7.8 .5,5 .5,7.6 .5,1.5 .5,2.6 .5,12.1 .5,2.1 .5,9.4 .5,10.5 .5,3.2 .5,5.2 .5,4.9 .5,8.6 .5,6.6 .5,2.3 .5,11.3 .5,2.2 .5,9.4 .5,3.9 .5,9.6 .5,5.2 .5,3.2 .5,5.3 .5,7.2 .5,8.5 .5,5 .5,3.5 .5,6.5 .5,9.7 .5-3 .5,12.1 .5,1.9 .5,12.2 .5,.6 .5,6.7 .5,3 .5,8.7 .5,7.9 .5,8.2 .5-2.5 .5,8.2 .5,18.1 .5-2.2 .5,3.8 .5,8.1 .5-2.2 .5,18.7 .5,2.5 .5,1.9 .5,13.4 .5,.6 .5,4.1 .5,9.1 .5,4.2 .5,1.9 .5,5.2 .5,.4 .5,3.6 .5,10.3 .5,4.9 .5,1.2 .5,3.5 .5,1.7 .5,4.6 .5,1.7 .5,11.5 .5-2.6 .5,6.8 .5,2.8 .5,0 .5,13.3 .5-2.5 .5,2.9 .5,6.4 .5,1.1 .5,6.5 .5,3.9" stroke="#F7AA10" stroke-width="5.8" fill="none" stroke-linejoin="round" stroke-linecap="butt"/><path d="M189,1003.2l.5,1.5 .5,5.3 .5-2.6 .5-6.2 .5,4.7 .5-1.5 .5,2.3 .5-4.7 .5,5.3 .5,.2 .5,3.9 .5-3.4 .5,.7 .5-5.4 .5,10.6 .5-11.5 .5,8.6 .5-3.9 .5-1.4 .5,.7 .5,.1 .5,3.1 .5-1.2 .5,4.6 .5-9.2 .5,5.3 .5-2.4 .5,4.8 .5-8 .5,5.1 .5,1.6 .5-4.6 .5,7 .5-2.2 .5,2.3 .5,0 .5-5.5 .5,.6 .5,1.6 .5,2.7 .5,.2 .5-4.4 .5,.2 .5-.6 .5,.5 .5,.8 .5,.2 .5,6 .5-7.3 .5,.4 .5,2 .5-4.2 .5,1.5 .5,.8 .5,1.9 .5-6 .5,7.2 .5-5.2 .5,.8 .5,.9 .5-1.8 .5-.3 .5-4.2 .5-2.3 .5-1 .5-5.7 .5,4.1 .5-7.7 .5-3.5 .5,7.2 .5-8.2 .5-5 .5,6.6 .5-7.8 .5,2.3 .5-6.7 .5,.5 .5-5 .5-1.6 .5,1.7 .5,1.7 .5,1.6 .5,3.8 .5-10.5 .5,5 .5-5.2 .5,.6 .5-4.4 .5-.7 .5,1.3 .5-1.8 .5,2.7 .5-2.6 .5,4.7 .5-3.7 .5-.7 .5,2 .5-2.5 .5-2.3 .5-1 .5-.9 .5,2.6 .5-1.7 .5-2 .5,.4 .5-4.6 .5,2.2 .5-6.2 .5,6.9 .5-4.3 .5-.4 .5,.4 .5-2.4 .5-1.3 .5,3.4 .5-3.6 .5-3.5 .5,3.3 .5-6.6 .5,8.9 .5-5.7 .5,0 .5,5.7 .5-.8 .5-6.2 .5,.9 .5,.9 .5,1.3 .5-5.3 .5,.5 .5,2.9 .5-2.7 .5,1.4 .5-.4 .5-4.7 .5,.9 .5-4.8 .5,6.9 .5,4.7 .5-6.6 .5,6.9 .5-.3 .5-2.6 .5,.5 .5,.7 .5-2.2 .5,2 .5,1.2 .5,2.3 .5,.9 .5-3.8 .5,4.9 .5-4 .5,2.2 .5,2 .5-.6 .5,.1 .5,1.6 .5-1.8 .5,.3 .5,1.8 .5,3.9 .5-2.4 .5,6.2 .5-4.1 .5-8.2 .5,7.8 .5,6.6 .5-4 .5-.5 .5-.5 .5,7 .5-.2 .5-.1 .5,.1 .5,3.6 .5-.9 .5-5 .5,6.4 .5-.8 .5,0 .5,3.2 .5-1.1 .5-7.3 .5,13.7 .5-.3 .5-2 .5,.6 .5,2.9 .5-3.1 .5,5.5 .5-.6 .5,.5 .5-1 .5,1.1 .5,5.1 .5,.6 .5-2.3 .5-1.6 .5-2.3 .5,4.4 .5,2.5 .5-9.1 .5,7.7 .5-9.4 .5,5 .5,2 .5-5.2 .5-1.1 .5,3.8 .5,.7 .5-5.3 .5,3.4 .5-7.8 .5,5 .5-6.7 .5-1.8 .5-1.1 .5-3.1 .5,2.2 .5-1 .5-6.6 .5-3.8 .5-4.7 .5-.8 .5,.2 .5-2.3 .5-1.8 .5-1.9 .5-.7 .5-7.2 .5-1.2 .5,4 .5-2.9 .5-5.9 .5,3.1 .5-7.5 .5-.8 .5-6.6 .5,5.4 .5-4.6 .5,.8 .5-3.3 .5-3.9 .5-2 .5,.8 .5-5.8 .5-1.9 .5-1.3 .5,.4 .5-1.3 .5,1.4 .5-6.9 .5,2.6 .5-6.6 .5,2.4 .5-2.4 .5,3.5 .5-4.1 .5-3.9 .5,1.9 .5-1.5 .5-2.8 .5-.8 .5-2.6 .5,9.5 .5-8.2 .5,1.5 .5-6.9 .5-.7 .5,1.7 .5-1 .5,1.7 .5-6 .5,3.4 .5,1.9 .5-7.6 .5,4.3 .5-5.9 .5,3 .5-.4 .5,3.4 .5-7 .5,2.2 .5,2.5 .5-5.9 .5,3.8 .5-1.6 .5,1.6 .5,5.1 .5,1.4 .5,6.9 .5-1.7 .5,1.5 .5-2.2 .5,1.5 .5,3.1 .5-4.8 .5,12.8 .5-4.7 .5,.7 .5,3.2 .5,5.3 .5,2.6 .5-3 .5,3.8 .5,.2 .5-1.1 .5,4.9 .5,1.2 .5-2.7 .5,9.1 .5-5.8 .5,6.8 .5-1.7 .5,2.5 .5,2.2 .5,6 .5-3.3 .5,5.2 .5,7.3 .5-3.8 .5,4.4 .5,4.5 .5-.9 .5,5.5 .5-.7 .5,6.3 .5,.5 .5-.6 .5,8.6 .5-2.3 .5,1.3 .5,.1 .5,3.2 .5,2.9 .5,2.7 .5,4.5 .5-4.9 .5,4.6 .5,6 .5-1.2 .5,2.1 .5,4.7 .5-2.4 .5,1.3 .5-.6 .5,5.6 .5-1.8 .5-4.9 .5,3.5 .5-5 .5,6 .5-1.5 .5-2.8 .5-1.2 .5-4.5 .5,6.5 .5-3.2 .5-1.4 .5,2.1 .5-4.8 .5-.8 .5-1.3 .5-2.8 .5,9.4 .5-8.4 .5-1.6 .5,2.4 .5-12.5 .5,7.5 .5-1.1 .5-4.1 .5,2.5 .5-8.7 .5,3.8 .5,.4 .5-11 .5-.2 .5,1.1 .5-2.2 .5-4.5 .5,.1 .5-3.2 .5-7.3 .5,.6 .5-6.2 .5-5.4 .5-4.2 .5,6 .5-7 .5,1.9 .5-13.6 .5-1.1 .5-2.2 .5-5.6 .5-2.3 .5-5.1 .5-6.1 .5-8.7 .5,.2 .5,4 .5-6 .5-1.6 .5-8.7 .5-2.1 .5-5 .5,.4 .5-3.9 .5-1.9 .5,.7 .5-10.2 .5,1.6 .5-8.8 .5,4.2 .5-7 .5-1.6 .5-2.2 .5,1.4 .5-7.6 .5-4.2 .5-4.7 .5,1.3 .5-5.9 .5-1.5 .5-.9 .5-.1 .5-5.6 .5,2.6 .5,2 .5-10 .5,7.1 .5,1.3 .5-8.5 .5,2.6 .5-6.2 .5,4.2 .5-2.4 .5,1.4 .5-3.8 .5,.1 .5,1 .5-.5 .5,1 .5,2.3 .5-1 .5,4.5 .5,3.9 .5-5.4 .5,9.6 .5,.1 .5,1.8 .5,2.3 .5,4.3 .5,3.1 .5,5.9 .5-1.8 .5,9.2 .5-2.4 .5,7.1 .5,4.2 .5-3.3 .5,9.7 .5,6.5 .5-3.9 .5,6.4 .5,1.6 .5,4.2 .5,2.9 .5,2.8 .5,7.1 .5,4.2 .5,1.3 .5,8.2 .5,2.8 .5,3 .5,.2 .5,11.6 .5,2.6 .5-5.4 .5,7.3 .5,6.1 .5,8.3 .5,5.1 .5,0 .5,5.6 .5,5.4 .5-1.3 .5,9.5 .5,1.9 .5,5.9 .5,3.9 .5,1.3 .5,5 .5,7.3 .5,4.4 .5,3 .5,7.5 .5-.4 .5,.8 .5,5.3 .5,3 .5,2.4 .5,6 .5,.5 .5,3.7 .5,1 .5-.2 .5,5.2 .5-2 .5,2.8 .5-2.4 .5,3.8 .5-.7 .5,1.9 .5,3.6 .5,.7 .5-5.1 .5-4.4 .5,.5 .5-3.7 .5-4.6 .5-.8 .5-3 .5-3.5 .5,3.1 .5-7.8 .5-2.3 .5,.7 .5-6.7 .5-4.3 .5-2.5 .5,.2 .5-4.1 .5-4.2 .5-6.6 .5-6.5 .5-1.4 .5-13.8 .5-4 .5-10.3 .5-3.8 .5-5 .5-1.6 .5-16.7 .5,6.8 .5-11.2 .5-1.4 .5-3.3 .5-9.1 .5-2.8 .5-3 .5-6.5 .5-6.6 .5-2.4 .5-5.4 .5-9.8 .5,2.4 .5-8.8 .5-13.3 .5-1.5 .5,1.2 .5-6.5 .5-9.8 .5-11.7 .5-2.1 .5-2.5 .5-8 .5-8.1 .5-7.2 .5-2.1 .5-9.6 .5-5.4 .5-6.5 .5-3.8 .5-10.8 .5-6.4 .5-11.8 .5,2.4 .5-5.6 .5-6.9 .5-9.7 .5,1.7 .5-1.1 .5,2.8 .5-7 .5-2.1 .5-2.3 .5-.7 .5-8.9 .5-.8 .5-2.2 .5,1.6 .5-.6 .5,1.2 .5-2.7 .5,4 .5-1.5 .5,9.9 .5-5.6 .5,10.8 .5-.2 .5-5.4 .5,8.9 .5,1.9 .5-2.9 .5,9.2 .5,2.1 .5,6.7 .5,3.3 .5,9.9 .5,9.6 .5,7.1 .5,7.7 .5,10.1 .5,6.1 .5,11.6 .5-.7 .5,18.7 .5,3.2 .5,8.4 .5,8.3 .5,1.4 .5,17.4 .5-1.9 .5,12.4 .5,7.8 .5,11.4 .5,5.6 .5,5.7 .5,14.7 .5,2.2 .5,16.4 .5,9.2 .5,15.3 .5,4.1 .5,8.2 .5,7.3 .5,7.7 .5,8.5 .5,10.7 .5,1.9 .5,10.4 .5,3.7 .5,10.8 .5,8.3 .5,3.5 .5,9.6 .5,10 .5,10.2 .5,9 .5,5.3 .5,5.5 .5,5.8 .5,13.8 .5,7.9 .5,2.3 .5,8.2 .5-.9 .5,4.9 .5,10.1 .5-2.9 .5,8.4 .5,2.9 .5,2.2 .5,6.6 .5-6 .5,1.8 .5-4.9 .5,2.2 .5,.4 .5-1.1 .5-1.3 .5-.7 .5-5 .5-6.3 .5,3.2 .5-2.1 .5-7.4 .5-2.2 .5,2.7 .5-7.6 .5-6.2 .5-8 .5-8.4 .5-8.7 .5-3.3 .5-7.9 .5-6.2 .5-4.2 .5-5.7 .5-3 .5-11.5 .5,2.7 .5-17.7 .5-7.2 .5-6 .5-16.1 .5-11.4 .5-12.3 .5-26.3 .5-15.9 .5-27.3 .5-24.9 .5-23.8 .5-22.4 .5-15.3 .5-13.6 .5-12.9 .5-13.5 .5-6.5 .5-14.6 .5-6.2 .5-4.4 .5-11.1 .5-16.4 .5-9.1 .5-9.1 .5-15.4 .5-13.4 .5-21.7 .5-9.9 .5-6.2 .5-10.2 .5-4.7 .5-6.7 .5-5.5 .5-7.8 .5-4.5 .5-6.3 .5-9.3 .5-12.3 .5-2.6 .5-13.4 .5-9.9 .5-10.7 .5-13.8 .5-.8 .5-9.5 .5-7.6 .5,1.3 .5-10 .5-3.3 .5-2.7 .5-1.4 .5-12.3 .5,1.6 .5,3.9 .5-2.4 .5-4.6 .5,13.4 .5,4.8 .5,6.9 .5,4 .5,3.9 .5,7.6 .5,4.7 .5,3.6 .5,7.1 .5,5.2 .5,1.3 .5,11.4 .5,5.6 .5,6.8 .5-2.1 .5,17 .5,10.2 .5,15 .5,26.6 .5,17.4 .5,28.4 .5,15.4 .5,14.5 .5,21.9 .5,13.4 .5,15.8 .5,11.9 .5,21.8 .5,19 .5,15.7 .5,9.9 .5,24.1 .5,17.3 .5,14.7 .5,13.5 .5,13.4 .5,18.2 .5,17.9 .5,20.1 .5,19.6 .5,17.8 .5,21.3 .5,27.3 .5,19 .5,25 .5,7.8 .5,18.5 .5,13.6 .5,7.1 .5,17.7 .5,9.3 .5,11.7 .5,13.8 .5,17.6 .5,17.7 .5,6.8 .5,20.9" stroke="#90289A" stroke-width="5.8" fill="none" stroke-linejoin="round" stroke-linecap="butt"/><path d="M189,1002.8l.5-1.9 .5,2.6 .5,1.5 .5,1.7 .5-3.2 .5-2.1 .5-1 .5,4.1 .5,2.3 .5-3.9 .5-4.3 .5,.7 .5,7.2 .5-3.9 .5-5.3 .5,4.7 .5-3 .5,1.6 .5,.5 .5-.5 .5,3.7 .5-1.7 .5-1.4 .5,2.9 .5,1.2 .5-6.9 .5,3.8 .5-2.1 .5,2.1 .5-3.3 .5,3.5 .5-.5 .5-1 .5-2.3 .5,1.5 .5-2.2 .5-1 .5,4.2 .5-3.9 .5,6.2 .5-1.4 .5-7.6 .5,6.4 .5-3.9 .5,3.2 .5,0 .5-5.7 .5,4.9 .5,0 .5,3.4 .5-6 .5,5.4 .5-5.2 .5,2.2 .5-1.9 .5,5.4 .5-4.2 .5,3.2 .5-7.4 .5-2 .5-2.5 .5-6.4 .5-.8 .5,1.5 .5-7.5 .5-1 .5-3.4 .5-1.1 .5-5.8 .5-2.4 .5-2.1 .5-3.6 .5-6 .5,1.6 .5-9.5 .5-3.1 .5-3.7 .5,2.8 .5-7.2 .5-5.3 .5-4.2 .5,.6 .5-8 .5-4.5 .5,1.2 .5-9.3 .5-1.9 .5-3.6 .5-5.9 .5-3.7 .5-1.2 .5-10.7 .5-7.8 .5-7.5 .5-1.5 .5-6.7 .5-4.6 .5-8.4 .5-6.5 .5-7 .5-5.8 .5-4.3 .5-7.6 .5-4.9 .5-1.1 .5-10.3 .5-12 .5,3 .5-10.2 .5-9.9 .5-1.1 .5-8.8 .5-8 .5-6.5 .5-7.5 .5-3.5 .5-3.6 .5-10.3 .5-4.2 .5-2 .5-14.6 .5-1.6 .5-6.8 .5-7 .5-4.4 .5-1.5 .5-3.1 .5-7.2 .5-3.1 .5-3.3 .5-7 .5-4.9 .5-9.5 .5-10.4 .5-7.5 .5-14.2 .5-10.4 .5-5.7 .5-11 .5-4.3 .5-2.5 .5-6.1 .5-3.4 .5-10.9 .5-11.2 .5,2.1 .5-10.2 .5-14 .5-1.3 .5-11.9 .5-13.3 .5-4.1 .5-8 .5-1.7 .5-14.1 .5-5.7 .5-7.3 .5-7.5 .5-8.8 .5-4.3 .5-5.3 .5-9.2 .5-12.7 .5-9.3 .5-5.4 .5-11.6 .5-9.3 .5-12.8 .5,.1 .5-13.1 .5-15.8 .3-3.7" stroke="#5BAA2A" stroke-width="5.6" fill="none" stroke-linejoin="round" stroke-linecap="butt"/><line x1="188.5" y1="776.2" x2="2016.0" y2="776.2" stroke="#000" stroke-width="4.3" stroke-dasharray="4.1 5.73" stroke-dashoffset="-0.15"/></g>
<g font-family="'Liberation Serif', serif" font-size="68.75" fill="#262626"><text x="187.4" y="1503.5" text-anchor="middle">0</text><text x="552.8" y="1503.5" text-anchor="middle">10</text><text x="918.2" y="1503.5" text-anchor="middle">20</text><text x="1283.6" y="1503.5" text-anchor="middle">30</text><text x="1649.0" y="1503.5" text-anchor="middle">40</text><text x="2014.4" y="1503.5" text-anchor="middle">50</text><text x="161" y="341.4" text-anchor="end">3</text><text x="161" y="570.6" text-anchor="end">2</text><text x="161" y="799.8" text-anchor="end">1</text><text x="161" y="1029.0" text-anchor="end">0</text><text x="161" y="1258.2" text-anchor="end">-1</text><text x="1100" y="1587.4" text-anchor="middle">Time</text></g>
<text transform="translate(67.1,787.4) rotate(-90)" x="0" y="0" font-family="'Liberation Serif', serif" font-style="italic" font-size="68.1" textLength="28.6" lengthAdjust="spacingAndGlyphs" fill="#111">y</text>
<g font-family="'Liberation Serif', serif" fill="#000"><text x="2042.7" y="334.0" font-size="66.8" font-style="italic" textLength="26.6" lengthAdjust="spacingAndGlyphs">y</text><text x="2069.0" y="343.9" font-style="italic" font-size="49" textLength="94.5" lengthAdjust="spacingAndGlyphs">max</text><text x="2033.4" y="793.0" font-size="67.1" font-style="italic" textLength="32.0" lengthAdjust="spacingAndGlyphs">r</text><text x="2042.7" y="1250.6" font-size="67.4" font-style="italic" textLength="26.6" lengthAdjust="spacingAndGlyphs">y</text><text x="2069.0" y="1260.7" font-style="italic" font-size="49" textLength="86.5" lengthAdjust="spacingAndGlyphs">min</text></g>
<g font-family="'Liberation Serif', serif" fill="#000"><text x="586.8" y="89.2" font-size="69.9" font-style="italic" textLength="50.2" lengthAdjust="spacingAndGlyphs">P</text><text x="640.0" y="90.5" font-size="76.3" textLength="22.8" lengthAdjust="spacingAndGlyphs">(</text><text x="667.2" y="89.3" font-size="62.6" font-style="italic" textLength="26.9" lengthAdjust="spacingAndGlyphs">s</text><text x="697.4" y="90.5" font-size="76.3" textLength="22.8" lengthAdjust="spacingAndGlyphs">)</text><text x="739.9" y="96.2" font-size="70.4" textLength="56.4" lengthAdjust="spacingAndGlyphs">=</text><rect x="822.5" y="70.9" width="329.5" height="2.3" fill="#000"/><text x="973.1" y="62.8" font-size="48.2" textLength="24.9" lengthAdjust="spacingAndGlyphs">1</text><text x="824.4" y="113.3" font-size="51.9" textLength="16.3" lengthAdjust="spacingAndGlyphs">(</text><text x="841.9" y="114.3" font-size="49.1" textLength="23.7" lengthAdjust="spacingAndGlyphs">2</text><text x="870.1" y="114.3" font-size="45.9" font-style="italic" textLength="17.2" lengthAdjust="spacingAndGlyphs">s</text><text x="888.9" y="118.4" font-size="48.0" textLength="35.2" lengthAdjust="spacingAndGlyphs">−</text><text x="925.6" y="114.3" font-size="49.2" textLength="23.2" lengthAdjust="spacingAndGlyphs">1</text><text x="950.7" y="113.3" font-size="51.9" textLength="16.5" lengthAdjust="spacingAndGlyphs">)</text><text x="970.4" y="113.3" font-size="51.9" textLength="16.2" lengthAdjust="spacingAndGlyphs">(</text><text x="987.0" y="114.3" font-size="49.5" textLength="23.8" lengthAdjust="spacingAndGlyphs">0</text><text x="1012.3" y="114.1" font-size="45.8" textLength="11.0" lengthAdjust="spacingAndGlyphs">.</text><text x="1023.8" y="114.3" font-size="49.6" textLength="23.4" lengthAdjust="spacingAndGlyphs">5</text><text x="1052.5" y="114.3" font-size="45.9" font-style="italic" textLength="17.2" lengthAdjust="spacingAndGlyphs">s</text><text x="1070.9" y="122.4" font-size="58.4" textLength="38.2" lengthAdjust="spacingAndGlyphs">+</text><text x="1108.5" y="114.3" font-size="49.2" textLength="23.3" lengthAdjust="spacingAndGlyphs">1</text><text x="1133.4" y="113.3" font-size="51.9" textLength="16.6" lengthAdjust="spacingAndGlyphs">)</text><text x="1160.8" y="89.6" font-size="62.8" font-style="italic" textLength="30.0" lengthAdjust="spacingAndGlyphs">e</text><text x="1192.5" y="68.1" font-size="48.0" textLength="35.1" lengthAdjust="spacingAndGlyphs">−</text><text x="1227.7" y="65.3" font-size="49.8" textLength="23.7" lengthAdjust="spacingAndGlyphs">0</text><text x="1253.9" y="65.1" font-size="45.8" textLength="11.0" lengthAdjust="spacingAndGlyphs">.</text><text x="1265.8" y="65.3" font-size="49.9" textLength="23.4" lengthAdjust="spacingAndGlyphs">5</text><text x="1293.1" y="65.3" font-size="45.9" font-style="italic" textLength="18.3" lengthAdjust="spacingAndGlyphs">s</text><text x="1318.4" y="90.2" font-size="83.3" textLength="19.0" lengthAdjust="spacingAndGlyphs">,</text><text x="1428.6" y="89.2" font-size="69" textLength="190.4" lengthAdjust="spacingAndGlyphs">PI-PD</text></g>
<g font-family="'Liberation Serif', serif" fill="#000"><rect x="1217.5" y="172.8" width="759.5" height="392.4" fill="#fff"/><line x1="1215.6" y1="172.8" x2="1978.4" y2="172.8" stroke="#8f8f8f" stroke-width="4.0"/><line x1="1217.5" y1="171" x2="1217.5" y2="566.4" stroke="#4a4a4a" stroke-width="3.0"/><line x1="1216" y1="565.2" x2="1978.4" y2="565.2" stroke="#3d3d3d" stroke-width="2.8"/><line x1="1977" y1="171" x2="1977" y2="566.4" stroke="#15151f" stroke-width="2.8"/><line x1="1233" y1="217.7" x2="1381" y2="217.7" stroke="#0072BD" stroke-width="5.2"/><text x="1391.1" y="232.3" font-size="58.8" font-weight="bold" textLength="39.6" lengthAdjust="spacingAndGlyphs">p</text><text x="1441.3" y="247.0" font-size="45" text-anchor="middle">0</text><text x="1457.4" y="233.7" font-size="69.6" textLength="14.8" lengthAdjust="spacingAndGlyphs">,</text><text x="1486.4" y="232.6" font-size="66.0" font-style="italic" textLength="32.2" lengthAdjust="spacingAndGlyphs">J</text><text x="1527.9" y="247.0" font-size="45" text-anchor="middle">0</text><text x="1556.5" y="238.3" font-size="64.4" textLength="50.8" lengthAdjust="spacingAndGlyphs">=</text><text x="1621" y="232.6" font-size="62" textLength="174.5" lengthAdjust="spacingAndGlyphs">1.1415</text><text x="1797.7" y="232.6" font-size="59.0" font-style="italic">e</text><text x="1837.3" y="242.9" font-size="79.4" textLength="50.1" lengthAdjust="spacingAndGlyphs">+</text><text x="1900.1" y="232.6" font-size="62" textLength="62.4" lengthAdjust="spacingAndGlyphs">01</text><line x1="1233" y1="293.8" x2="1381" y2="293.8" stroke="#EE501C" stroke-width="5.2"/><text x="1391.1" y="308.3" font-size="58.8" font-weight="bold" textLength="39.6" lengthAdjust="spacingAndGlyphs">p</text><text x="1441.3" y="323.0" font-size="45" text-anchor="middle">1</text><text x="1457.4" y="309.7" font-size="69.6" textLength="14.8" lengthAdjust="spacingAndGlyphs">,</text><text x="1486.4" y="308.7" font-size="66.0" font-style="italic" textLength="32.2" lengthAdjust="spacingAndGlyphs">J</text><text x="1527.9" y="323.0" font-size="45" text-anchor="middle">1</text><text x="1556.5" y="314.4" font-size="64.4" textLength="50.8" lengthAdjust="spacingAndGlyphs">=</text><text x="1621" y="308.6" font-size="62" textLength="174.5" lengthAdjust="spacingAndGlyphs">4.6450</text><text x="1797.7" y="308.7" font-size="59.0" font-style="italic">e</text><text x="1837.3" y="318.9" font-size="79.4" textLength="50.1" lengthAdjust="spacingAndGlyphs">+</text><text x="1900.1" y="308.6" font-size="62" textLength="62.4" lengthAdjust="spacingAndGlyphs">07</text><line x1="1233" y1="369.8" x2="1381" y2="369.8" stroke="#F7AA10" stroke-width="5.2"/><text x="1391.1" y="384.4" font-size="58.8" font-weight="bold" textLength="39.6" lengthAdjust="spacingAndGlyphs">p</text><text x="1441.3" y="399.1" font-size="45" text-anchor="middle">2</text><text x="1457.4" y="385.8" font-size="69.6" textLength="14.8" lengthAdjust="spacingAndGlyphs">,</text><text x="1486.4" y="384.7" font-size="66.0" font-style="italic" textLength="32.2" lengthAdjust="spacingAndGlyphs">J</text><text x="1527.9" y="399.1" font-size="45" text-anchor="middle">2</text><text x="1556.5" y="390.4" font-size="64.4" textLength="50.8" lengthAdjust="spacingAndGlyphs">=</text><text x="1621" y="384.7" font-size="62" textLength="174.5" lengthAdjust="spacingAndGlyphs">2.2615</text><text x="1797.7" y="384.7" font-size="59.0" font-style="italic">e</text><text x="1837.3" y="395.0" font-size="79.4" textLength="50.1" lengthAdjust="spacingAndGlyphs">+</text><text x="1900.1" y="384.7" font-size="62" textLength="62.4" lengthAdjust="spacingAndGlyphs">08</text><line x1="1233" y1="445.8" x2="1381" y2="445.8" stroke="#90289A" stroke-width="5.2"/><text x="1391.1" y="460.4" font-size="58.8" font-weight="bold" textLength="39.6" lengthAdjust="spacingAndGlyphs">p</text><text x="1441.3" y="475.1" font-size="45" text-anchor="middle">3</text><text x="1457.4" y="461.8" font-size="69.6" textLength="14.8" lengthAdjust="spacingAndGlyphs">,</text><text x="1486.4" y="460.8" font-size="66.0" font-style="italic" textLength="32.2" lengthAdjust="spacingAndGlyphs">J</text><text x="1527.9" y="475.1" font-size="45" text-anchor="middle">3</text><text x="1556.5" y="466.5" font-size="64.4" textLength="50.8" lengthAdjust="spacingAndGlyphs">=</text><text x="1621" y="460.8" font-size="62" textLength="174.5" lengthAdjust="spacingAndGlyphs">3.8950</text><text x="1797.7" y="460.8" font-size="59.0" font-style="italic">e</text><text x="1837.3" y="471.0" font-size="79.4" textLength="50.1" lengthAdjust="spacingAndGlyphs">+</text><text x="1900.1" y="460.8" font-size="62" textLength="62.4" lengthAdjust="spacingAndGlyphs">08</text><line x1="1233" y1="521.9" x2="1381" y2="521.9" stroke="#5BAA2A" stroke-width="5.2"/><text x="1391.1" y="536.5" font-size="58.8" font-weight="bold" textLength="39.6" lengthAdjust="spacingAndGlyphs">p</text><text x="1441.3" y="551.2" font-size="45" text-anchor="middle">4</text><text x="1457.4" y="537.9" font-size="69.6" textLength="14.8" lengthAdjust="spacingAndGlyphs">,</text><text x="1486.4" y="536.8" font-size="66.0" font-style="italic" textLength="32.2" lengthAdjust="spacingAndGlyphs">J</text><text x="1527.9" y="551.2" font-size="45" text-anchor="middle">4</text><text x="1556.5" y="542.5" font-size="64.4" textLength="50.8" lengthAdjust="spacingAndGlyphs">=</text><text x="1621" y="536.8" font-size="62" textLength="174.5" lengthAdjust="spacingAndGlyphs">4.7660</text><text x="1797.7" y="536.8" font-size="59.0" font-style="italic">e</text><text x="1837.3" y="547.1" font-size="79.4" textLength="50.1" lengthAdjust="spacingAndGlyphs">+</text><text x="1900.1" y="536.8" font-size="62" textLength="62.4" lengthAdjust="spacingAndGlyphs">08</text></g>
</svg>
</body></html>
